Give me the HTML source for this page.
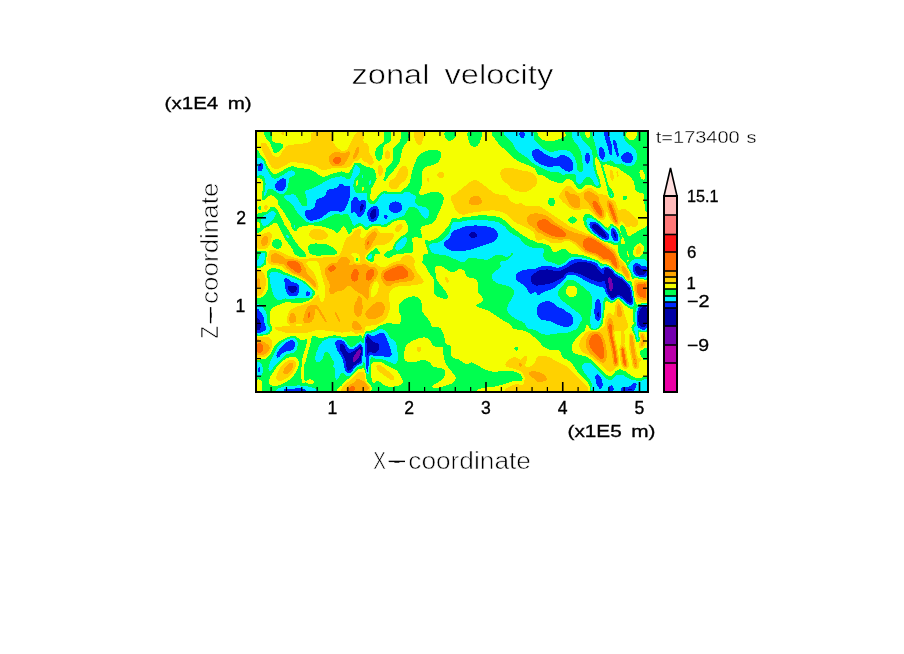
<!DOCTYPE html>
<html lang="en">
<head>
<meta charset="utf-8">
<title>zonal velocity</title>
<style>
html,body{margin:0;padding:0;background:#fff;}
body{width:904px;height:654px;overflow:hidden;}
svg{display:block;}
text{font-family:"Liberation Sans",sans-serif;fill:#000;}
.thin{stroke:#fff;stroke-width:0.6px;paint-order:fill stroke;}
.thin2{stroke:#fff;stroke-width:0.3px;paint-order:fill stroke;}
.med{stroke:#000;stroke-width:0.32px;}
.lab{stroke:#000;stroke-width:0.35px;}
</style>
</head>
<body>
<svg width="904" height="654" viewBox="0 0 904 654">
<defs>
<filter id="contour" x="0" y="0" width="100%" height="100%" filterUnits="userSpaceOnUse" primitiveUnits="userSpaceOnUse" color-interpolation-filters="sRGB">
<feGaussianBlur stdDeviation="1.5"/>
<feComponentTransfer>
<feFuncR type="discrete" tableValues="0.4510 0.0000 0.0000 0.0000 0.0000 0.9608 1.0000 1.0000 1.0000 1.0000"/>
<feFuncG type="discrete" tableValues="0.0000 0.0000 0.1569 0.9412 1.0000 1.0000 0.8235 0.6471 0.4118 0.0784"/>
<feFuncB type="discrete" tableValues="0.6863 0.6471 1.0000 1.0000 0.3137 0.0000 0.0000 0.0000 0.0000 0.0784"/>
<feFuncA type="discrete" tableValues="1 1"/>
</feComponentTransfer>
</filter>
<clipPath id="plotclip"><rect x="256" y="131" width="392" height="261"/></clipPath>
</defs>
<rect x="0" y="0" width="904" height="654" fill="#fff"/>
<g clip-path="url(#plotclip)">
<g filter="url(#contour)">
<rect x="200" y="80" width="500" height="360" fill="rgb(140,140,140)"/>
<path d="M261.2,142.5C261.9,141.2 264.7,142.3 266.2,143.8C267.8,145.2 269.4,149.2 270.6,151.2C271.9,153.3 272.2,155.4 273.8,156.2C275.3,157.1 277.9,157.9 280.0,156.2C282.1,154.6 281.2,148.6 286.2,146.2C291.2,143.9 305.7,144.2 310.0,141.9C314.3,139.6 308.5,134.1 311.9,132.5C315.2,130.9 326.5,130.8 330.0,132.5C333.5,134.2 331.0,139.3 333.1,142.5C335.2,145.7 339.9,150.6 342.5,151.9C345.1,153.1 346.0,151.4 348.8,150.0C351.5,148.6 357.0,142.3 358.8,143.8C360.5,145.2 360.0,155.3 359.4,158.8C358.8,162.2 357.0,162.9 355.0,164.4C353.0,165.8 350.8,167.0 347.5,167.5C344.2,168.0 339.2,167.1 335.0,167.5C330.8,167.9 326.0,170.3 322.5,170.0C319.0,169.7 318.8,167.0 313.8,165.6C308.8,164.3 297.5,161.8 292.5,161.9C287.5,162.0 286.7,165.0 283.8,166.2C280.8,167.5 277.5,170.0 275.0,169.4C272.5,168.8 270.8,165.5 268.8,162.5C266.7,159.5 263.8,154.6 262.5,151.2C261.2,147.9 260.6,143.8 261.2,142.5Z" fill="rgb(166,166,166)"/>
<ellipse cx="282.8" cy="133.5" rx="2.2" ry="1.9" transform="rotate(0 282.8 133.5)" fill="rgb(166,166,166)"/>
<path d="M264.4,131.2C265.3,130.2 269.9,129.6 271.2,131.2C272.6,132.9 270.7,139.2 272.5,141.2C274.3,143.3 279.9,142.7 281.9,143.8C283.9,144.8 284.9,146.2 284.4,147.5C283.9,148.8 280.3,150.1 278.8,151.2C277.2,152.4 276.0,154.6 275.0,154.4C274.0,154.2 273.3,152.0 272.5,150.0C271.7,148.0 271.1,144.6 270.0,142.5C268.9,140.4 266.6,139.4 265.6,137.5C264.7,135.6 263.4,132.3 264.4,131.2Z" fill="rgb(115,115,115)"/>
<path d="M255.0,151.2C255.9,143.8 259.2,153.3 260.6,155.0C262.1,156.7 262.6,159.2 263.8,161.2C264.9,163.3 265.8,165.3 267.5,167.5C269.2,169.7 271.7,173.6 273.8,174.4C275.8,175.1 277.1,173.2 280.0,171.9C282.9,170.5 288.1,166.9 291.2,166.2C294.4,165.6 295.6,167.6 298.8,168.1C301.9,168.6 307.3,168.8 310.0,169.4C312.7,170.0 312.8,170.6 315.0,171.9C317.2,173.1 320.2,176.6 323.1,176.9C326.0,177.2 329.3,174.7 332.5,173.8C335.7,172.8 340.0,171.2 342.5,171.2C345.0,171.2 346.0,174.0 347.5,173.8C349.0,173.5 350.0,171.6 351.2,170.0C352.5,168.4 354.0,165.7 355.0,164.4C356.0,163.0 356.7,161.6 357.5,161.9C358.3,162.2 359.2,164.9 360.0,166.2C360.8,167.6 361.0,169.2 362.5,170.0C364.0,170.8 367.7,166.2 368.8,171.2C369.8,176.2 387.7,195.2 368.8,200.0C349.8,204.8 274.0,208.1 255.0,200.0C236.0,191.9 254.1,158.8 255.0,151.2Z" fill="rgb(115,115,115)"/>
<path d="M362.4,145.0C363.0,143.2 365.6,141.9 366.8,143.1C367.9,144.4 368.2,149.9 369.2,152.5C370.3,155.1 372.3,156.9 373.0,158.8C373.7,160.6 374.2,162.7 373.6,163.8C373.0,164.8 370.6,165.8 369.2,165.0C367.9,164.2 366.5,160.6 365.5,158.8C364.5,156.9 363.5,156.0 363.0,153.8C362.5,151.5 361.8,146.8 362.4,145.0Z" fill="rgb(166,166,166)"/>
<ellipse cx="387.4" cy="155.0" rx="2.5" ry="5.2" transform="rotate(0 387.4 155.0)" fill="rgb(166,166,166)"/>
<ellipse cx="380.1" cy="170.6" rx="2.8" ry="6.0" transform="rotate(0 380.1 170.6)" fill="rgb(166,166,166)"/>
<path d="M390.5,180.0C391.6,179.0 393.8,179.6 395.5,177.5C397.2,175.4 398.8,169.5 400.5,167.5C402.2,165.5 404.2,164.8 405.5,165.6C406.8,166.5 408.0,170.1 408.0,172.5C408.0,174.9 406.8,178.1 405.5,180.0C404.2,181.9 402.0,182.3 400.5,183.8C399.0,185.2 398.4,187.9 396.8,188.8C395.1,189.6 391.8,189.6 390.5,188.8C389.2,187.9 389.0,185.2 389.0,183.8C389.0,182.3 389.4,181.0 390.5,180.0Z" fill="rgb(166,166,166)"/>
<path d="M414.2,131.2C415.5,129.4 422.2,129.8 423.6,131.2C425.1,132.7 423.6,137.6 423.0,140.0C422.4,142.4 421.0,145.2 419.9,145.6C418.7,146.0 417.1,144.9 416.1,142.5C415.2,140.1 413.0,133.1 414.2,131.2Z" fill="rgb(166,166,166)"/>
<ellipse cx="440.9" cy="175.2" rx="3.8" ry="3.1" transform="rotate(0 440.9 175.2)" fill="rgb(166,166,166)"/>
<ellipse cx="428.0" cy="179.8" rx="1.4" ry="3.8" transform="rotate(-15.0 428.0 179.8)" fill="rgb(166,166,166)"/>
<path d="M459.2,197.5C458.4,196.5 460.5,193.0 461.8,191.2C463.0,189.5 465.9,185.8 466.8,186.9C467.6,187.9 468.0,195.7 466.8,197.5C465.5,199.3 460.1,198.5 459.2,197.5Z" fill="rgb(166,166,166)"/>
<path d="M384.2,131.2C385.3,129.5 389.5,129.6 390.5,131.2C391.5,132.9 391.3,139.2 390.5,141.2C389.7,143.3 386.8,142.5 385.5,143.8C384.2,145.0 383.5,146.5 383.0,148.8C382.5,151.0 383.0,155.4 382.4,157.5C381.8,159.6 380.3,161.0 379.2,161.2C378.2,161.5 376.8,160.6 376.1,158.8C375.5,156.9 374.9,152.4 375.5,150.0C376.1,147.6 378.5,145.7 379.9,144.4C381.3,143.0 383.3,144.1 384.0,141.9C384.7,139.7 383.2,133.0 384.2,131.2Z" fill="rgb(115,115,115)"/>
<path d="M401.1,131.2C402.4,129.7 406.9,129.7 408.0,131.2C409.1,132.8 408.8,137.9 408.0,140.6C407.2,143.3 404.1,145.1 403.0,147.5C401.9,149.9 401.8,152.5 401.1,155.0C400.5,157.5 400.6,159.8 399.2,162.5C397.9,165.2 395.1,168.5 393.0,171.2C390.9,174.0 388.1,176.2 386.8,178.8C385.4,181.2 385.7,183.1 384.9,186.2C384.0,189.4 383.5,195.6 381.8,197.5C380.0,199.4 375.1,199.6 374.2,197.5C373.4,195.4 375.1,188.3 376.8,185.0C378.4,181.7 382.7,180.2 384.2,177.5C385.8,174.8 384.9,171.2 386.1,168.8C387.4,166.2 390.5,164.6 391.8,162.5C393.0,160.4 393.5,158.3 393.6,156.2C393.7,154.2 392.0,151.9 392.4,150.0C392.8,148.1 394.8,146.6 396.1,145.0C397.5,143.4 399.7,142.9 400.5,140.6C401.3,138.3 399.9,132.8 401.1,131.2Z" fill="rgb(115,115,115)"/>
<path d="M418.0,156.2C419.5,154.2 420.9,153.5 423.0,152.5C425.1,151.5 427.8,150.3 430.5,150.0C433.2,149.7 437.5,149.8 439.2,150.6C441.0,151.5 441.3,153.0 441.1,155.0C440.9,157.0 439.8,160.7 438.0,162.5C436.2,164.3 432.8,164.8 430.5,165.6C428.2,166.5 425.7,165.9 424.2,167.5C422.8,169.1 422.2,172.1 421.8,175.0C421.3,177.9 422.2,182.3 421.8,185.0C421.3,187.7 420.5,189.2 419.2,191.2C418.0,193.3 417.4,196.5 414.2,197.5C411.1,198.5 402.4,198.8 400.5,197.5C398.6,196.2 401.5,192.3 403.0,190.0C404.5,187.7 407.8,186.7 409.2,183.8C410.7,180.8 410.9,175.6 411.8,172.5C412.6,169.4 413.2,167.7 414.2,165.0C415.3,162.3 416.5,158.3 418.0,156.2Z" fill="rgb(115,115,115)"/>
<path d="M444.9,131.2C446.5,130.1 453.8,130.2 455.5,131.2C457.2,132.3 455.9,135.8 454.9,137.5C453.8,139.2 450.8,141.1 449.2,141.2C447.7,141.4 446.2,139.8 445.5,138.1C444.8,136.5 443.2,132.4 444.9,131.2Z" fill="rgb(115,115,115)"/>
<path d="M353.0,165.0C353.8,159.2 355.9,162.3 358.0,162.5C360.1,162.7 363.4,165.4 365.5,166.2C367.6,167.1 368.8,166.7 370.5,167.5C372.2,168.3 374.5,168.3 375.5,171.2C376.5,174.2 377.0,180.6 376.8,185.0C376.5,189.4 378.2,195.4 374.2,197.5C370.3,199.6 356.5,202.9 353.0,197.5C349.5,192.1 352.2,170.8 353.0,165.0Z" fill="rgb(115,115,115)"/>
<ellipse cx="452.2" cy="135.0" rx="3.5" ry="4.8" transform="rotate(0 452.2 135.0)" fill="rgb(115,115,115)"/>
<path d="M467.9,131.2C469.9,129.2 479.4,130.0 481.6,131.2C483.8,132.5 481.6,136.4 481.0,138.8C480.4,141.1 479.1,144.3 477.9,145.6C476.6,147.0 474.9,147.2 473.5,146.9C472.1,146.6 470.7,146.4 469.8,143.8C468.8,141.1 465.9,133.3 467.9,131.2Z" fill="rgb(115,115,115)"/>
<path d="M494.1,131.2C487.5,132.5 493.6,136.2 494.8,138.8C495.9,141.2 498.7,144.0 501.0,146.2C503.3,148.5 506.6,150.7 508.5,152.5C510.4,154.3 510.2,155.2 512.2,156.9C514.3,158.5 517.9,160.9 521.0,162.5C524.1,164.1 528.1,165.0 531.0,166.2C533.9,167.5 536.2,168.3 538.5,170.0C540.8,171.7 542.2,174.4 544.8,176.2C547.2,178.1 550.2,180.6 553.5,181.2C556.8,181.9 562.9,186.7 564.8,180.0C566.6,173.3 566.0,147.8 564.8,141.2C563.5,134.7 559.5,140.4 557.2,140.6C555.0,140.8 553.3,142.5 551.0,142.5C548.7,142.5 545.8,141.7 543.5,140.6C541.2,139.6 538.7,137.8 537.2,136.2C535.8,134.7 541.9,132.1 534.8,131.2C527.6,130.4 500.8,130.0 494.1,131.2Z" fill="rgb(115,115,115)"/>
<path d="M501.0,170.0C502.6,168.2 507.7,168.0 511.0,168.1C514.3,168.2 517.7,169.9 521.0,170.6C524.3,171.4 528.3,171.1 531.0,172.5C533.7,173.9 536.4,176.7 537.2,178.8C538.1,180.8 537.2,183.1 536.0,185.0C534.8,186.9 531.6,188.9 529.8,190.0C527.9,191.1 527.5,191.9 524.8,191.9C522.0,191.9 516.4,191.4 513.5,190.0C510.6,188.6 509.2,185.6 507.2,183.8C505.3,181.9 502.7,181.0 501.6,178.8C500.6,176.5 499.4,171.8 501.0,170.0Z" fill="rgb(166,166,166)"/>
<path d="M456.0,197.5C450.2,195.8 460.4,190.4 463.5,187.5C466.6,184.6 471.4,180.4 474.8,180.0C478.1,179.6 480.6,183.0 483.5,185.0C486.4,187.0 489.8,189.8 492.2,191.9C494.8,194.0 504.5,196.6 498.5,197.5C492.5,198.4 461.8,199.2 456.0,197.5Z" fill="rgb(166,166,166)"/>
<path d="M536.0,137.5C537.2,132.4 540.8,140.0 543.5,140.6C546.2,141.2 549.3,141.6 552.2,141.2C555.2,140.9 558.5,139.8 561.0,138.8C563.5,137.7 566.0,136.5 567.2,135.0C568.5,133.5 555.0,130.8 568.5,130.0C582.0,129.2 635.2,120.0 648.5,130.0C661.8,140.0 649.1,179.7 648.5,190.0C647.9,200.3 646.4,191.1 644.8,191.6C643.1,192.1 640.4,193.3 638.8,192.9C637.1,192.5 635.9,191.0 635.1,189.1C634.3,187.3 634.9,184.1 633.9,181.9C632.9,179.6 631.0,177.6 629.0,175.8C627.0,173.9 623.7,172.1 621.6,170.8C619.6,169.4 618.5,168.2 616.8,167.5C615.0,166.8 612.8,166.9 611.0,166.2C609.2,165.6 607.7,164.4 606.0,163.8C604.3,163.1 602.7,164.0 601.0,162.5C599.3,161.0 597.0,155.2 596.0,155.0C595.0,154.8 594.8,158.5 594.8,161.2C594.8,164.0 595.4,168.1 596.0,171.2C596.6,174.4 597.7,177.1 598.5,180.0C599.3,182.9 601.0,187.5 601.0,188.8C601.0,190.0 600.2,188.1 598.5,187.5C596.8,186.9 593.1,185.4 591.0,185.0C588.9,184.6 587.9,184.2 586.0,185.0C584.1,185.8 581.4,189.8 579.8,190.0C578.1,190.2 577.2,187.9 576.0,186.2C574.8,184.6 574.8,181.1 572.2,180.0C569.8,178.9 564.3,179.4 561.0,179.4C557.7,179.4 555.2,180.7 552.2,180.0C549.3,179.3 546.2,176.5 543.5,175.0C540.8,173.5 537.2,177.5 536.0,171.2C534.8,165.0 534.8,142.6 536.0,137.5Z" fill="rgb(115,115,115)"/>
<path d="M562.2,197.5C556.7,196.0 563.1,190.7 564.1,188.8C565.2,186.8 566.9,185.6 568.5,185.6C570.1,185.6 571.8,187.4 573.5,188.8C575.2,190.1 576.8,193.3 578.5,193.8C580.2,194.2 581.8,192.3 583.5,191.2C585.2,190.2 586.8,187.7 588.5,187.5C590.2,187.3 592.0,188.3 593.5,190.0C595.0,191.7 602.5,196.2 597.2,197.5C592.0,198.8 567.8,199.0 562.2,197.5Z" fill="rgb(166,166,166)"/>
<ellipse cx="611.6" cy="175.0" rx="1.8" ry="7.5" transform="rotate(-8.0 611.6 175.0)" fill="rgb(166,166,166)"/>
<ellipse cx="617.5" cy="173.8" rx="1.2" ry="6.2" transform="rotate(-8.0 617.5 173.8)" fill="rgb(166,166,166)"/>
<ellipse cx="259.4" cy="187.5" rx="1.8" ry="5.0" transform="rotate(0 259.4 187.5)" fill="rgb(166,166,166)"/>
<path d="M272.5,194.8C257.3,196.2 275.6,200.6 277.5,203.5C279.4,206.4 281.7,209.1 283.8,212.2C285.8,215.4 287.9,219.8 290.0,222.2C292.1,224.8 293.3,226.7 296.2,227.2C299.2,227.8 303.5,225.6 307.5,225.4C311.5,225.2 315.8,225.3 320.0,226.0C324.2,226.7 329.6,228.5 332.5,229.8C335.4,231.0 336.0,233.7 337.5,233.5C339.0,233.3 340.2,230.0 341.2,228.5C342.3,227.0 342.7,224.1 343.8,224.8C344.8,225.4 346.5,230.2 347.5,232.2C348.5,234.3 348.8,237.2 350.0,237.2C351.2,237.2 352.9,234.3 355.0,232.2C357.1,230.2 360.2,225.6 362.5,224.8C364.8,223.9 367.7,232.2 368.8,227.2C369.8,222.2 384.8,200.2 368.8,194.8C352.7,189.3 287.7,193.3 272.5,194.8Z" fill="rgb(115,115,115)"/>
<path d="M255.0,216.0C256.2,212.5 260.2,213.6 262.5,212.2C264.8,210.9 266.9,208.8 268.8,207.9C270.6,206.9 272.2,206.1 273.8,206.6C275.3,207.1 276.8,209.0 278.1,211.0C279.5,213.0 280.3,215.6 281.9,218.5C283.4,221.4 285.7,225.4 287.5,228.5C289.3,231.6 290.6,234.3 292.5,237.2C294.4,240.2 296.2,243.1 298.8,246.0C301.2,248.9 305.4,251.8 307.5,254.8C309.6,257.7 311.7,262.0 311.2,263.5C310.8,265.0 307.3,265.0 305.0,263.5C302.7,262.0 299.8,257.5 297.5,254.8C295.2,252.0 293.3,250.0 291.2,247.2C289.2,244.5 286.9,241.6 285.0,238.5C283.1,235.4 281.5,231.2 280.0,228.5C278.5,225.8 277.7,222.9 276.2,222.2C274.8,221.6 273.1,223.9 271.2,224.8C269.4,225.6 266.9,226.0 265.0,227.2C263.1,228.5 261.7,231.2 260.0,232.2C258.3,233.3 255.8,236.2 255.0,233.5C254.2,230.8 253.8,219.5 255.0,216.0Z" fill="rgb(115,115,115)"/>
<ellipse cx="276.9" cy="244.1" rx="5.2" ry="5.6" transform="rotate(0 276.9 244.1)" fill="rgb(115,115,115)"/>
<path d="M307.5,246.0C308.3,244.5 310.8,243.8 313.8,243.5C316.7,243.2 321.9,243.5 325.0,244.1C328.1,244.8 330.4,245.9 332.5,247.2C334.6,248.6 337.1,250.8 337.5,252.2C337.9,253.7 337.1,255.2 335.0,256.0C332.9,256.8 328.3,257.2 325.0,257.2C321.7,257.2 317.7,256.8 315.0,256.0C312.3,255.2 310.0,253.9 308.8,252.2C307.5,250.6 306.7,247.5 307.5,246.0Z" fill="rgb(115,115,115)"/>
<path d="M255.0,251.0C256.2,248.7 260.4,249.3 262.5,249.8C264.6,250.2 266.5,251.2 267.5,253.5C268.5,255.8 270.8,261.8 268.8,263.5C266.7,265.2 257.3,265.6 255.0,263.5C252.7,261.4 253.8,253.3 255.0,251.0Z" fill="rgb(115,115,115)"/>
<ellipse cx="266.2" cy="207.9" rx="1.9" ry="4.4" transform="rotate(0 266.2 207.9)" fill="rgb(166,166,166)"/>
<ellipse cx="258.8" cy="224.8" rx="1.2" ry="3.8" transform="rotate(0 258.8 224.8)" fill="rgb(166,166,166)"/>
<ellipse cx="274.6" cy="229.8" rx="1.6" ry="1.9" transform="rotate(0 274.6 229.8)" fill="rgb(166,166,166)"/>
<ellipse cx="286.2" cy="222.2" rx="1.2" ry="2.5" transform="rotate(0 286.2 222.2)" fill="rgb(166,166,166)"/>
<path d="M255.0,237.2C256.0,235.4 259.2,235.6 261.2,234.8C263.3,233.9 265.7,232.5 267.5,232.2C269.3,232.0 271.2,232.2 271.9,233.5C272.5,234.8 271.8,237.7 271.2,239.8C270.7,241.8 270.0,244.3 268.8,246.0C267.5,247.7 265.4,249.1 263.8,249.8C262.1,250.4 260.2,250.4 258.8,249.8C257.3,249.1 255.6,248.1 255.0,246.0C254.4,243.9 254.0,239.1 255.0,237.2Z" fill="rgb(166,166,166)"/>
<path d="M309.4,232.2C310.1,230.8 312.6,229.4 315.0,229.1C317.4,228.8 321.6,229.4 323.8,230.4C325.9,231.3 327.7,233.4 328.1,234.8C328.5,236.1 328.0,237.7 326.2,238.5C324.5,239.3 320.1,239.9 317.5,239.8C314.9,239.6 312.0,239.1 310.6,237.9C309.3,236.6 308.6,233.7 309.4,232.2Z" fill="rgb(166,166,166)"/>
<path d="M305.6,231.6C305.7,233.6 306.0,239.6 306.2,243.5C306.5,247.4 306.8,252.9 306.9,254.8" fill="none" stroke="rgb(166,166,166)" stroke-width="1.2" stroke-linecap="round" stroke-linejoin="round"/>
<path d="M269.4,251.0C270.6,248.7 273.4,249.1 276.2,249.8C279.1,250.4 282.9,253.3 286.2,254.8C289.6,256.2 293.1,257.0 296.2,258.5C299.4,260.0 309.6,262.7 305.0,263.5C300.4,264.3 274.7,265.6 268.8,263.5C262.8,261.4 268.1,253.3 269.4,251.0Z" fill="rgb(166,166,166)"/>
<path d="M342.5,248.5C343.5,245.8 344.6,241.0 346.2,238.5C347.9,236.0 350.4,235.4 352.5,233.5C354.6,231.6 357.3,227.9 358.8,227.2C360.2,226.6 361.0,228.1 361.2,229.8C361.5,231.4 359.6,235.8 360.0,237.2C360.4,238.7 362.3,239.1 363.8,238.5C365.2,237.9 367.9,229.3 368.8,233.5C369.6,237.7 370.4,258.5 368.8,263.5C367.1,268.5 360.6,265.0 358.8,263.5C356.9,262.0 358.3,256.8 357.5,254.8C356.7,252.7 355.0,250.8 353.8,251.0C352.5,251.2 351.0,253.9 350.0,256.0C349.0,258.1 349.6,262.2 347.5,263.5C345.4,264.8 338.8,265.0 337.5,263.5C336.2,262.0 339.2,257.2 340.0,254.8C340.8,252.2 341.5,251.2 342.5,248.5Z" fill="rgb(166,166,166)"/>
<path d="M353.0,194.8C342.6,200.2 351.8,222.4 353.0,227.2C354.2,232.1 358.4,223.7 360.5,224.1C362.6,224.5 363.6,229.4 365.5,229.8C367.4,230.1 369.7,226.9 371.8,226.0C373.8,225.1 375.7,224.3 378.0,224.5C380.3,224.7 383.2,227.6 385.5,227.2C387.8,226.9 389.5,223.6 391.8,222.2C394.0,220.9 397.0,219.3 399.2,219.1C401.5,218.9 404.0,219.6 405.5,221.0C407.0,222.4 407.4,224.8 408.0,227.2C408.6,229.8 408.4,234.3 409.2,236.0C410.1,237.7 411.5,237.0 413.0,237.2C414.5,237.5 416.3,237.0 418.0,237.2C419.7,237.5 422.5,239.3 423.0,238.5C423.5,237.7 421.5,234.1 421.1,232.2C420.7,230.4 419.4,228.5 420.5,227.2C421.6,226.0 425.8,225.5 428.0,224.8C430.2,224.0 432.0,224.5 433.8,222.5C435.5,220.5 437.3,215.6 438.8,212.5C440.2,209.4 441.7,206.4 442.5,203.8C443.3,201.1 444.3,198.5 443.8,196.6C443.2,194.7 441.9,192.9 439.2,192.2C436.6,191.6 431.1,192.2 428.0,192.9C424.9,193.5 422.6,195.7 420.5,196.0C418.4,196.3 426.8,195.0 415.5,194.8C404.2,194.5 363.4,189.3 353.0,194.8Z" fill="rgb(115,115,115)"/>
<path d="M403.0,237.2C405.1,235.4 406.5,232.0 408.0,232.2C409.5,232.5 410.9,235.4 411.8,238.5C412.6,241.6 413.4,248.1 413.0,251.0C412.6,253.9 411.3,255.6 409.2,256.0C407.2,256.4 403.2,253.6 400.5,253.5C397.8,253.4 395.1,254.6 393.0,255.4C390.9,256.1 389.7,258.0 388.0,257.9C386.3,257.8 384.7,256.0 383.0,254.8C381.3,253.5 379.2,251.8 378.0,250.4C376.8,248.9 376.5,245.9 375.5,246.0C374.5,246.1 373.4,249.3 371.8,251.0C370.1,252.7 366.9,253.9 365.5,256.0C364.1,258.1 362.0,262.2 363.6,263.5C365.3,264.8 373.8,264.5 375.5,263.5C377.2,262.5 373.5,259.0 373.6,257.2C373.7,255.5 374.8,253.2 376.1,252.9C377.5,252.6 379.9,255.7 381.8,255.4C383.6,255.1 385.5,251.9 387.4,251.0C389.2,250.1 391.6,251.0 393.0,249.8C394.4,248.5 393.8,245.6 395.5,243.5C397.2,241.4 400.9,239.1 403.0,237.2Z" fill="rgb(115,115,115)"/>
<path d="M466.8,219.1C465.1,212.0 459.7,220.0 456.8,221.0C453.8,222.0 451.3,223.7 449.2,225.4C447.2,227.0 446.3,228.8 444.2,231.0C442.2,233.2 439.2,236.8 436.8,238.5C434.2,240.2 431.3,240.9 429.2,241.0C427.2,241.1 424.8,238.3 424.2,239.1C423.7,240.0 425.3,243.6 426.1,246.0C427.0,248.4 428.9,251.4 429.2,253.5C429.6,255.6 429.0,256.8 428.0,258.5C427.0,260.2 416.5,262.7 423.0,263.5C429.5,264.3 459.5,270.9 466.8,263.5C474.0,256.1 468.4,226.2 466.8,219.1Z" fill="rgb(115,115,115)"/>
<path d="M353.0,229.8C353.8,226.4 356.9,230.6 358.0,232.2C359.1,233.9 359.9,237.0 359.9,239.8C359.9,242.5 359.1,246.4 358.0,248.5C356.9,250.6 353.8,255.4 353.0,252.2C352.2,249.1 352.2,233.1 353.0,229.8Z" fill="rgb(166,166,166)"/>
<path d="M361.8,254.8C361.5,252.7 362.2,249.1 363.0,246.0C363.8,242.9 365.3,238.7 366.8,236.0C368.2,233.3 370.1,231.1 371.8,229.8C373.4,228.4 375.5,227.5 376.8,227.9C378.0,228.3 377.8,231.3 379.2,232.2C380.7,233.2 383.4,233.5 385.5,233.5C387.6,233.5 390.3,231.8 391.8,232.2C393.2,232.7 394.5,234.5 394.2,236.0C394.0,237.5 392.2,239.5 390.5,241.0C388.8,242.5 386.3,244.1 384.2,244.8C382.2,245.4 379.9,244.1 378.0,244.8C376.1,245.4 374.7,247.0 373.0,248.5C371.3,250.0 369.5,251.8 368.0,253.5C366.5,255.2 365.3,258.3 364.2,258.5C363.2,258.7 362.0,256.8 361.8,254.8Z" fill="rgb(166,166,166)"/>
<path d="M395.5,227.2C396.3,226.1 398.6,224.1 399.9,223.8C401.1,223.4 402.7,224.5 403.0,225.4C403.3,226.3 402.7,228.0 401.8,229.1C400.8,230.3 398.5,232.0 397.4,232.2C396.3,232.5 395.6,231.2 395.2,230.4C394.9,229.5 394.7,228.4 395.5,227.2Z" fill="rgb(166,166,166)"/>
<path d="M400.5,263.5C398.6,262.2 401.8,257.7 403.0,256.0C404.2,254.3 406.3,253.3 408.0,253.5C409.7,253.7 412.0,255.6 413.0,257.2C414.0,258.9 416.3,262.5 414.2,263.5C412.2,264.5 402.4,264.8 400.5,263.5Z" fill="rgb(166,166,166)"/>
<path d="M454.9,194.8C457.0,193.5 464.8,191.6 466.8,194.8C468.7,197.9 467.8,210.3 466.8,213.5C465.7,216.7 462.4,214.8 460.5,214.1C458.6,213.5 456.5,211.7 455.5,209.8C454.5,207.8 454.4,204.8 454.2,202.2C454.1,199.8 452.8,196.0 454.9,194.8Z" fill="rgb(166,166,166)"/>
<path d="M454.1,194.8C446.1,196.6 453.4,203.1 454.1,206.0C454.9,208.9 455.9,211.1 458.5,212.2C461.1,213.4 465.6,213.1 469.8,212.9C473.9,212.7 479.1,211.4 483.5,211.0C487.9,210.6 492.5,210.1 496.0,210.4C499.5,210.7 502.5,211.7 504.8,212.9C507.0,214.0 508.3,215.9 509.8,217.2C511.2,218.6 512.0,219.9 513.5,221.0C515.0,222.1 516.4,223.1 518.5,224.1C520.6,225.2 523.7,226.1 526.0,227.2C528.3,228.4 530.2,229.5 532.2,231.0C534.3,232.5 536.4,234.6 538.5,236.0C540.6,237.4 542.7,238.0 544.8,239.1C546.8,240.3 548.9,242.2 551.0,242.9C553.1,243.5 555.0,243.3 557.2,242.9C559.5,242.5 563.5,243.0 564.8,240.4C566.0,237.8 566.4,230.9 564.8,227.2C563.1,223.6 557.2,220.8 554.8,218.5C552.2,216.2 551.8,215.2 549.8,213.5C547.7,211.8 545.0,209.6 542.2,208.5C539.5,207.4 536.4,207.0 533.5,206.6C530.6,206.2 526.6,206.6 524.8,206.0C522.9,205.4 523.7,203.2 522.2,202.9C520.8,202.6 518.1,204.5 516.0,204.1C513.9,203.7 512.0,201.9 509.8,200.4C507.5,198.8 511.5,195.7 502.2,194.8C493.0,193.8 462.1,192.9 454.1,194.8Z" fill="rgb(166,166,166)"/>
<ellipse cx="551.6" cy="202.0" rx="3.1" ry="4.4" transform="rotate(0 551.6 202.0)" fill="rgb(115,115,115)"/>
<path d="M561.0,194.8C561.5,193.7 564.1,193.5 564.8,194.8C565.4,196.0 565.3,201.2 564.8,202.2C564.2,203.3 562.2,202.2 561.6,201.0C561.0,199.8 560.5,195.8 561.0,194.8Z" fill="rgb(166,166,166)"/>
<path d="M451.0,221.0C452.2,213.6 455.8,219.8 458.5,219.1C461.2,218.5 463.9,217.9 467.2,217.2C470.6,216.6 474.3,215.6 478.5,215.4C482.7,215.2 488.5,215.6 492.2,216.0C496.0,216.4 498.7,216.9 501.0,217.9C503.3,218.8 504.3,220.2 506.0,221.6C507.7,223.1 508.9,224.9 511.0,226.6C513.1,228.4 516.0,230.5 518.5,232.2C521.0,234.0 523.1,235.7 526.0,237.2C528.9,238.8 533.1,240.5 536.0,241.6C538.9,242.8 541.2,243.4 543.5,244.1C545.8,244.9 548.1,244.6 549.8,246.0C551.4,247.4 552.0,251.4 553.5,252.2C555.0,253.1 556.6,251.6 558.5,251.0C560.4,250.4 563.7,246.4 564.8,248.5C565.8,250.6 583.7,261.0 564.8,263.5C545.8,266.0 470.0,270.6 451.0,263.5C432.0,256.4 449.8,228.4 451.0,221.0Z" fill="rgb(115,115,115)"/>
<path d="M536.0,207.2C537.5,202.0 542.0,208.5 544.8,209.8C547.5,211.0 549.5,213.0 552.2,214.8C555.0,216.5 558.3,218.6 561.0,220.4C563.7,222.1 565.8,223.8 568.5,225.4C571.2,226.9 574.8,228.6 577.2,229.8C579.8,230.9 581.8,231.2 583.5,232.2C585.2,233.3 585.8,234.8 587.2,236.0C588.7,237.2 590.0,238.5 592.2,239.8C594.5,241.0 598.3,242.0 601.0,243.5C603.7,245.0 606.0,246.6 608.5,248.5C611.0,250.4 614.1,252.2 616.0,254.8C617.9,257.2 621.4,262.0 619.8,263.5C618.1,265.0 609.1,264.8 606.0,263.5C602.9,262.2 603.3,258.1 601.0,256.0C598.7,253.9 595.0,251.8 592.2,251.0C589.5,250.2 587.0,251.8 584.8,251.0C582.5,250.2 580.2,247.7 578.5,246.0C576.8,244.3 576.4,242.0 574.8,241.0C573.1,240.0 570.8,240.1 568.5,239.8C566.2,239.4 563.7,239.4 561.0,239.1C558.3,238.8 555.2,238.1 552.2,237.9C549.3,237.7 546.2,237.4 543.5,237.9C540.8,238.4 537.2,246.1 536.0,241.0C534.8,235.9 534.5,212.5 536.0,207.2Z" fill="rgb(166,166,166)"/>
<path d="M560.4,194.8C567.7,193.9 598.4,193.3 606.0,194.8C613.6,196.2 606.2,200.4 606.0,203.5C605.8,206.6 605.4,210.8 604.8,213.5C604.1,216.2 603.7,219.1 602.2,219.8C600.8,220.4 597.9,218.7 596.0,217.2C594.1,215.8 592.7,212.5 591.0,211.0C589.3,209.5 588.1,208.7 586.0,208.5C583.9,208.3 580.8,209.8 578.5,209.8C576.2,209.8 574.3,209.3 572.2,208.5C570.2,207.7 567.7,206.2 566.0,204.8C564.3,203.3 563.2,201.4 562.2,199.8C561.3,198.1 553.1,195.6 560.4,194.8Z" fill="rgb(166,166,166)"/>
<path d="M605.4,198.5C606.0,196.0 609.2,195.2 611.0,196.0C612.8,196.8 614.6,200.4 616.0,203.5C617.4,206.6 618.5,211.0 619.1,214.8C619.8,218.5 620.3,224.1 619.8,226.0C619.2,227.9 617.5,227.0 616.0,226.0C614.5,225.0 612.5,222.2 611.0,219.8C609.5,217.2 608.2,214.5 607.2,211.0C606.3,207.5 604.8,201.0 605.4,198.5Z" fill="rgb(166,166,166)"/>
<path d="M619.8,211.0C620.0,208.9 621.8,208.3 623.5,208.5C625.2,208.7 627.9,210.8 629.8,212.2C631.6,213.7 633.3,215.6 634.8,217.2C636.2,218.9 638.3,220.6 638.5,222.2C638.7,223.9 637.2,226.6 636.0,227.2C634.8,227.9 632.7,226.0 631.0,226.0C629.3,226.0 627.5,228.1 626.0,227.2C624.5,226.4 623.3,223.7 622.2,221.0C621.2,218.3 619.5,213.1 619.8,211.0Z" fill="rgb(166,166,166)"/>
<ellipse cx="551.6" cy="202.0" rx="3.5" ry="4.4" transform="rotate(0 551.6 202.0)" fill="rgb(115,115,115)"/>
<ellipse cx="572.5" cy="220.0" rx="4.4" ry="3.8" transform="rotate(0 572.5 220.0)" fill="rgb(115,115,115)"/>
<ellipse cx="624.8" cy="197.9" rx="2.5" ry="2.8" transform="rotate(0 624.8 197.9)" fill="rgb(115,115,115)"/>
<path d="M583.5,216.6C583.9,215.4 584.8,213.8 586.0,213.5C587.2,213.2 589.1,213.7 591.0,214.8C592.9,215.8 595.2,217.9 597.2,219.8C599.3,221.6 601.6,224.5 603.5,226.0C605.4,227.5 607.2,228.9 608.5,228.5C609.8,228.1 610.0,224.1 611.0,223.5C612.0,222.9 613.5,223.5 614.8,224.8C616.0,226.0 617.5,228.7 618.5,231.0C619.5,233.3 620.8,236.4 621.0,238.5C621.2,240.6 620.8,242.5 619.8,243.5C618.7,244.5 616.4,245.0 614.8,244.8C613.1,244.5 611.6,242.8 609.8,242.2C607.9,241.7 605.6,242.1 603.5,241.6C601.4,241.1 599.3,240.5 597.2,239.1C595.2,237.8 592.9,235.5 591.0,233.5C589.1,231.5 587.2,229.3 586.0,227.2C584.8,225.2 583.9,222.8 583.5,221.0C583.1,219.2 583.1,217.9 583.5,216.6Z" fill="rgb(115,115,115)"/>
<path d="M618.5,246.0C619.5,244.1 621.8,245.0 623.5,243.5C625.2,242.0 626.4,239.1 628.5,237.2C630.6,235.4 633.5,233.7 636.0,232.2C638.5,230.8 641.4,229.3 643.5,228.5C645.6,227.7 647.7,221.4 648.5,227.2C649.3,233.1 653.9,257.5 648.5,263.5C643.1,269.5 621.2,265.0 616.0,263.5C610.8,262.0 616.8,257.7 617.2,254.8C617.7,251.8 617.5,247.9 618.5,246.0Z" fill="rgb(115,115,115)"/>
<path d="M621.6,225.4C622.1,226.9 623.6,231.3 624.8,234.8C625.9,238.2 627.9,244.1 628.5,246.0" fill="none" stroke="rgb(115,115,115)" stroke-width="3.8" stroke-linecap="round" stroke-linejoin="round"/>
<path d="M644.1,192.2C644.8,190.4 647.8,188.9 648.5,192.2C649.2,195.6 649.0,209.0 648.5,212.2C648.0,215.5 646.0,213.1 645.4,211.6C644.7,210.2 644.7,206.7 644.5,203.5C644.3,200.3 643.5,194.1 644.1,192.2Z" fill="rgb(115,115,115)"/>
<path d="M536.0,242.9C537.0,239.5 540.2,243.0 542.2,243.5C544.3,244.0 547.2,244.5 548.5,246.0C549.8,247.5 550.2,250.2 549.8,252.2C549.3,254.3 546.8,256.6 546.0,258.5C545.2,260.4 546.4,262.7 544.8,263.5C543.1,264.3 537.5,266.9 536.0,263.5C534.5,260.1 535.0,246.2 536.0,242.9Z" fill="rgb(115,115,115)"/>
<path d="M554.8,263.5C549.1,262.5 558.7,258.8 561.0,257.2C563.3,255.7 565.6,254.5 568.5,254.1C571.4,253.7 575.2,254.2 578.5,254.8C581.8,255.3 585.8,255.8 588.5,257.2C591.2,258.7 600.4,262.5 594.8,263.5C589.1,264.5 560.4,264.5 554.8,263.5Z" fill="rgb(115,115,115)"/>
<path d="M280.6,260.8C295.1,259.9 354.1,250.1 368.8,260.8C383.4,271.4 375.2,313.9 368.8,324.5C362.3,335.1 337.7,324.9 330.0,324.5C322.3,324.1 324.6,323.2 322.5,322.0C320.4,320.8 319.0,318.7 317.5,317.0C316.0,315.3 315.0,314.3 313.8,312.0C312.5,309.7 310.0,305.5 310.0,303.2C310.0,301.0 312.5,300.1 313.8,298.2C315.0,296.4 317.5,293.9 317.5,292.0C317.5,290.1 315.2,288.7 313.8,287.0C312.3,285.3 310.2,283.5 308.8,282.0C307.3,280.5 306.7,279.3 305.0,278.2C303.3,277.2 300.8,276.4 298.8,275.8C296.7,275.1 294.6,275.5 292.5,274.5C290.4,273.5 288.0,271.0 286.2,269.5C284.5,268.0 282.8,267.2 281.9,265.8C280.9,264.3 266.1,261.6 280.6,260.8Z" fill="rgb(166,166,166)"/>
<path d="M288.1,323.2C286.5,321.8 288.2,316.8 288.8,314.5C289.3,312.2 289.8,310.9 291.2,309.5C292.7,308.1 295.2,307.3 297.5,306.4C299.8,305.4 302.9,304.4 305.0,303.9C307.1,303.4 307.9,301.1 310.0,303.2C312.1,305.4 314.2,313.5 317.5,317.0C320.8,320.5 331.0,323.1 330.0,324.5C329.0,325.9 316.5,325.3 311.2,325.1C306.0,324.9 302.6,323.6 298.8,323.2C294.9,322.9 289.8,324.7 288.1,323.2Z" fill="rgb(166,166,166)"/>
<path d="M255.0,269.5C256.0,264.9 259.6,269.7 261.2,270.8C262.9,271.8 264.2,273.7 265.0,275.8C265.8,277.8 266.5,280.8 266.2,283.2C266.0,285.8 264.8,288.5 263.8,290.8C262.7,293.0 261.5,295.8 260.0,297.0C258.5,298.2 255.8,302.8 255.0,298.2C254.2,293.7 254.0,274.1 255.0,269.5Z" fill="rgb(166,166,166)"/>
<path d="M267.5,270.8C268.2,268.2 270.4,268.5 272.5,268.2C274.6,268.0 277.9,268.8 280.0,269.5C282.1,270.2 283.1,271.7 285.0,272.6C286.9,273.6 289.0,274.2 291.2,275.1C293.5,276.1 296.5,277.3 298.8,278.2C301.0,279.2 302.9,279.3 305.0,280.8C307.1,282.2 309.4,285.1 311.2,287.0C313.1,288.9 315.8,290.3 316.2,292.0C316.7,293.7 315.0,295.5 313.8,297.0C312.5,298.5 310.6,299.7 308.8,300.8C306.9,301.8 304.8,302.8 302.5,303.2C300.2,303.7 297.5,303.5 295.0,303.2C292.5,303.0 290.0,301.8 287.5,302.0C285.0,302.2 282.3,303.7 280.0,304.5C277.7,305.3 275.4,305.8 273.8,307.0C272.1,308.2 270.8,308.2 270.0,312.0C269.2,315.8 271.2,326.6 268.8,329.5C266.2,332.4 257.3,334.5 255.0,329.5C252.7,324.5 253.8,304.9 255.0,299.5C256.2,294.1 260.5,298.2 262.5,297.0C264.5,295.8 265.9,294.3 266.9,292.0C267.8,289.7 268.0,286.8 268.1,283.2C268.2,279.7 266.8,273.2 267.5,270.8Z" fill="rgb(115,115,115)"/>
<path d="M353.0,260.8C354.2,249.5 358.4,261.2 360.5,262.0C362.6,262.8 363.0,265.8 365.5,265.8C368.0,265.8 373.4,262.0 375.5,262.0C377.6,262.0 376.3,264.9 378.0,265.8C379.7,266.6 382.8,267.6 385.5,267.0C388.2,266.4 390.9,262.8 394.2,262.0C397.6,261.2 402.4,261.8 405.5,262.0C408.6,262.2 411.1,261.6 413.0,263.2C414.9,264.9 415.1,269.3 416.8,272.0C418.4,274.7 421.8,277.7 423.0,279.5C424.2,281.3 425.1,281.8 424.2,282.6C423.4,283.5 420.7,284.0 418.0,284.5C415.3,285.0 410.9,285.5 408.0,285.8C405.1,286.0 403.0,285.3 400.5,285.8C398.0,286.2 394.9,287.0 393.0,288.2C391.1,289.5 389.9,291.0 389.2,293.2C388.6,295.5 389.0,299.9 389.2,302.0C389.5,304.1 390.7,303.7 390.5,305.8C390.3,307.8 389.0,312.0 388.0,314.5C387.0,317.0 385.9,319.1 384.2,320.8C382.6,322.4 380.3,323.7 378.0,324.5C375.7,325.3 372.6,324.9 370.5,325.8C368.4,326.6 368.4,328.9 365.5,329.5C362.6,330.1 355.1,341.0 353.0,329.5C350.9,318.0 351.8,272.0 353.0,260.8Z" fill="rgb(166,166,166)"/>
<path d="M425.5,260.8C432.2,259.7 459.9,259.3 466.8,260.8C473.6,262.2 468.0,268.1 466.8,269.5C465.5,270.9 461.5,268.4 459.2,268.9C457.0,269.4 454.9,272.7 453.0,272.6C451.1,272.5 450.1,269.6 448.0,268.2C445.9,266.9 442.6,264.9 440.5,264.5C438.4,264.1 436.5,264.1 435.5,265.8C434.5,267.4 435.1,273.5 434.2,274.5C433.4,275.5 431.8,273.2 430.5,272.0C429.2,270.8 427.6,268.9 426.8,267.0C425.9,265.1 418.8,261.8 425.5,260.8Z" fill="rgb(115,115,115)"/>
<path d="M434.9,277.0C435.8,276.2 437.7,281.2 439.2,283.2C440.8,285.3 442.8,287.4 444.2,289.5C445.7,291.6 447.6,294.1 448.0,295.8C448.4,297.4 448.0,299.2 446.8,299.5C445.5,299.8 442.5,298.4 440.5,297.6C438.5,296.9 436.0,296.7 434.9,295.1C433.8,293.6 434.0,291.3 434.0,288.2C434.0,285.2 434.0,277.8 434.9,277.0Z" fill="rgb(115,115,115)"/>
<path d="M398.6,305.8C399.2,303.8 401.2,301.6 403.0,300.1C404.8,298.7 407.2,297.6 409.2,297.0C411.3,296.4 413.6,296.0 415.5,296.4C417.4,296.8 419.5,298.1 420.5,299.5C421.5,300.9 421.4,302.4 421.8,304.5C422.1,306.6 421.5,309.9 422.4,312.0C423.2,314.1 425.4,315.1 426.8,317.0C428.1,318.9 429.5,321.2 430.5,323.2C431.5,325.3 442.0,328.5 433.0,329.5C424.0,330.5 385.3,330.3 376.8,329.5C368.2,328.7 379.5,325.5 381.8,324.5C384.0,323.5 387.6,323.2 390.5,323.2C393.4,323.2 397.5,325.5 399.2,324.5C401.0,323.5 401.1,319.1 401.1,317.0C401.1,314.9 399.7,313.9 399.2,312.0C398.8,310.1 398.0,307.7 398.6,305.8Z" fill="rgb(115,115,115)"/>
<ellipse cx="446.8" cy="279.5" rx="1.5" ry="5.0" transform="rotate(-25.0 446.8 279.5)" fill="rgb(166,166,166)"/>
<path d="M451.0,260.8C432.0,262.7 450.2,271.3 451.0,272.6C451.8,274.0 453.9,269.4 456.0,268.9C458.1,268.4 461.6,268.1 463.5,269.5C465.4,270.9 465.4,275.5 467.2,277.0C469.1,278.5 472.9,277.0 474.8,278.2C476.6,279.5 478.0,282.2 478.5,284.5C479.0,286.8 477.0,289.6 477.9,292.0C478.7,294.4 483.2,297.0 483.5,298.9C483.8,300.8 481.3,302.1 479.8,303.2C478.2,304.4 473.9,304.9 474.1,305.8C474.3,306.6 478.6,307.4 481.0,308.2C483.4,309.1 486.0,309.5 488.5,310.8C491.0,312.0 493.5,314.1 496.0,315.8C498.5,317.4 501.0,319.3 503.5,320.8C506.0,322.2 508.7,323.0 511.0,324.5C513.3,326.0 508.3,328.7 517.2,329.5C526.2,330.3 556.8,341.0 564.8,329.5C572.7,318.0 583.7,272.2 564.8,260.8C545.8,249.3 470.0,258.8 451.0,260.8Z" fill="rgb(115,115,115)"/>
<polygon points="534.8,260.8 648.5,260.8 648.5,329.5 534.8,329.5" fill="rgb(115,115,115)"/>
<path d="M255.0,353.0C255.8,346.5 258.3,355.7 260.0,356.8C261.7,357.8 263.3,359.9 265.0,359.2C266.7,358.6 268.5,355.1 270.0,353.0C271.5,350.9 272.3,348.6 273.8,346.8C275.2,344.9 276.7,343.0 278.8,341.8C280.8,340.5 283.5,340.0 286.2,339.2C289.0,338.5 292.3,337.2 295.0,337.4C297.7,337.6 300.4,340.4 302.5,340.5C304.6,340.6 305.8,338.9 307.5,338.0C309.2,337.1 310.8,335.0 312.5,334.9C314.2,334.8 315.4,336.9 317.5,337.4C319.6,337.9 322.1,338.2 325.0,338.0C327.9,337.8 332.1,336.2 335.0,336.1C337.9,336.0 339.6,337.5 342.5,337.4C345.4,337.3 349.2,336.0 352.5,335.5C355.8,335.0 359.8,334.7 362.5,334.2C365.2,333.8 367.7,325.9 368.8,333.0C369.8,340.1 369.4,370.1 368.8,376.8C368.1,383.4 366.2,374.2 365.0,373.0C363.8,371.8 362.5,369.9 361.2,369.2C360.0,368.6 359.0,368.2 357.5,369.2C356.0,370.3 354.4,373.6 352.5,375.5C350.6,377.4 348.1,378.6 346.2,380.5C344.4,382.4 342.9,385.3 341.2,386.8C339.6,388.2 337.7,387.8 336.2,389.2C334.8,390.7 346.0,394.5 332.5,395.5C319.0,396.5 267.9,402.6 255.0,395.5C242.1,388.4 254.2,359.5 255.0,353.0Z" fill="rgb(115,115,115)"/>
<path d="M255.0,331.8C256.0,327.9 259.0,333.4 261.2,334.2C263.5,335.1 266.9,335.3 268.8,336.8C270.6,338.2 272.1,340.7 272.5,343.0C272.9,345.3 272.1,348.4 271.2,350.5C270.4,352.6 269.2,354.2 267.5,355.5C265.8,356.8 263.3,357.7 261.2,358.0C259.2,358.3 256.0,361.8 255.0,357.4C254.0,353.0 254.0,335.6 255.0,331.8Z" fill="rgb(166,166,166)"/>
<path d="M341.2,391.8C337.3,390.5 343.3,386.3 345.0,384.2C346.7,382.2 349.2,381.1 351.2,379.2C353.3,377.4 355.8,374.2 357.5,373.0C359.2,371.8 360.0,371.1 361.2,371.8C362.5,372.4 363.8,375.5 365.0,376.8C366.2,378.0 368.1,376.8 368.8,379.2C369.4,381.8 373.3,389.7 368.8,391.8C364.2,393.8 345.2,393.0 341.2,391.8Z" fill="rgb(166,166,166)"/>
<polygon points="364.2,326.8 466.8,326.8 466.8,395.5 364.2,395.5" fill="rgb(115,115,115)"/>
<path d="M451.0,358.0C452.2,352.0 455.8,358.8 458.5,359.2C461.2,359.7 464.3,359.7 467.2,360.5C470.2,361.3 473.1,362.8 476.0,364.2C478.9,365.7 481.8,368.0 484.8,369.2C487.7,370.5 490.8,371.4 493.5,371.8C496.2,372.1 498.5,371.3 501.0,371.1C503.5,370.9 506.0,370.4 508.5,370.5C511.0,370.6 513.9,371.1 516.0,371.8C518.1,372.4 519.8,373.2 521.0,374.2C522.2,375.3 523.3,376.8 523.5,378.0C523.7,379.2 523.5,381.3 522.2,381.8C521.0,382.2 517.9,380.5 516.0,380.5C514.1,380.5 513.1,381.1 511.0,381.8C508.9,382.4 506.4,383.4 503.5,384.2C500.6,385.1 496.8,386.1 493.5,386.8C490.2,387.4 486.4,387.4 483.5,388.0C480.6,388.6 477.7,389.2 476.0,390.5C474.3,391.8 477.7,394.7 473.5,395.5C469.3,396.3 454.8,401.8 451.0,395.5C447.2,389.2 449.8,364.0 451.0,358.0Z" fill="rgb(115,115,115)"/>
<path d="M521.0,326.8C514.5,327.4 524.1,329.0 526.0,330.5C527.9,332.0 530.2,333.8 532.2,335.5C534.3,337.2 536.6,338.6 538.5,340.5C540.4,342.4 541.4,345.2 543.5,346.8C545.6,348.3 548.5,349.5 551.0,349.9C553.5,350.3 556.7,348.7 558.5,349.2C560.3,349.8 560.6,351.5 561.6,353.0C562.7,354.5 564.2,362.4 564.8,358.0C565.3,353.6 572.0,332.0 564.8,326.8C557.5,321.5 527.5,326.1 521.0,326.8Z" fill="rgb(115,115,115)"/>
<ellipse cx="516.4" cy="348.4" rx="2.5" ry="2.5" transform="rotate(0 516.4 348.4)" fill="rgb(115,115,115)"/>
<path d="M504.8,365.5C504.5,364.0 507.9,360.6 509.8,359.2C511.6,357.9 514.1,357.2 516.0,357.4C517.9,357.6 519.8,360.6 521.0,360.5C522.2,360.4 522.5,357.6 523.5,356.8C524.5,355.9 526.7,354.9 527.2,355.5C527.8,356.1 527.0,358.8 526.6,360.5C526.2,362.2 524.6,364.2 524.8,365.5C524.9,366.8 525.8,368.2 527.2,368.0C528.7,367.8 531.6,365.7 533.5,364.2C535.4,362.8 536.4,360.5 538.5,359.2C540.6,358.0 543.3,356.5 546.0,356.8C548.7,357.0 552.2,359.0 554.8,360.5C557.2,362.0 559.3,364.2 561.0,365.5C562.7,366.8 564.1,363.6 564.8,368.0C565.4,372.4 571.4,387.8 564.8,391.8C558.1,395.7 531.6,393.0 524.8,391.8C517.9,390.5 523.6,386.5 523.5,384.2C523.4,382.0 524.3,379.9 524.1,378.0C523.9,376.1 523.2,374.2 522.2,373.0C521.3,371.8 520.4,371.3 518.5,370.5C516.6,369.7 513.3,368.8 511.0,368.0C508.7,367.2 505.0,367.0 504.8,365.5Z" fill="rgb(166,166,166)"/>
<path d="M503.5,391.8C501.1,390.9 507.7,388.0 509.8,386.8C511.8,385.5 514.1,384.5 516.0,384.2C517.9,384.0 519.6,384.2 521.0,385.5C522.4,386.8 527.0,390.7 524.1,391.8C521.2,392.8 505.9,392.6 503.5,391.8Z" fill="rgb(166,166,166)"/>
<path d="M536.0,326.8C544.3,324.9 578.7,325.5 586.0,326.8C593.3,328.0 581.6,332.0 579.8,334.2C577.9,336.5 576.1,338.4 574.8,340.5C573.4,342.6 571.8,344.7 571.6,346.8C571.4,348.8 572.1,351.6 573.5,353.0C574.9,354.4 577.5,354.2 579.8,354.9C582.0,355.5 585.0,355.6 587.2,356.8C589.5,357.9 591.4,359.9 593.5,361.8C595.6,363.6 597.7,365.9 599.8,368.0C601.8,370.1 604.1,372.8 606.0,374.2C607.9,375.7 609.3,377.4 611.0,376.8C612.7,376.1 614.3,371.8 616.0,370.5C617.7,369.2 619.3,369.0 621.0,369.2C622.7,369.5 624.3,370.7 626.0,371.8C627.7,372.8 629.3,374.5 631.0,375.5C632.7,376.5 634.1,377.6 636.0,378.0C637.9,378.4 640.4,378.4 642.2,378.0C644.1,377.6 646.4,373.2 647.2,375.5C648.1,377.8 656.6,389.0 647.2,391.8C637.9,394.5 600.6,392.8 591.0,391.8C581.4,390.7 590.8,387.6 589.8,385.5C588.7,383.4 586.6,381.3 584.8,379.2C582.9,377.2 580.4,375.3 578.5,373.0C576.6,370.7 575.2,367.6 573.5,365.5C571.8,363.4 570.4,362.0 568.5,360.5C566.6,359.0 563.7,358.4 562.2,356.8C560.8,355.1 561.4,351.9 559.8,350.5C558.1,349.1 554.8,349.2 552.2,348.6C549.8,348.0 546.8,347.9 544.8,346.8C542.7,345.6 541.2,343.2 539.8,341.8C538.3,340.3 536.6,340.5 536.0,338.0C535.4,335.5 527.7,328.6 536.0,326.8Z" fill="rgb(115,115,115)"/>
<path d="M536.0,359.2C537.5,353.3 542.0,356.1 544.8,356.1C547.5,356.1 549.8,358.1 552.2,359.2C554.8,360.4 557.2,361.8 559.8,363.0C562.2,364.2 565.0,365.1 567.2,366.8C569.5,368.4 571.6,371.1 573.5,373.0C575.4,374.9 576.6,376.1 578.5,378.0C580.4,379.9 582.9,382.0 584.8,384.2C586.6,386.5 597.9,390.5 589.8,391.8C581.6,393.0 545.0,397.2 536.0,391.8C527.0,386.3 534.5,365.2 536.0,359.2Z" fill="rgb(166,166,166)"/>
<path d="M579.1,344.2C579.3,341.5 581.9,337.8 583.5,335.5C585.1,333.2 586.6,331.8 588.5,330.5C590.4,329.2 592.7,328.6 594.8,328.0C596.8,327.4 598.5,327.0 601.0,326.8C603.5,326.5 607.9,325.3 609.8,326.8C611.6,328.2 611.6,332.2 612.2,335.5C612.9,338.8 613.2,342.8 613.5,346.8C613.8,350.7 613.7,355.9 614.1,359.2C614.5,362.6 616.5,364.7 616.0,366.8C615.5,368.8 612.5,371.1 611.0,371.8C609.5,372.4 608.7,371.5 607.2,370.5C605.8,369.5 604.1,367.2 602.2,365.5C600.4,363.8 598.3,362.3 596.0,360.5C593.7,358.7 590.8,356.3 588.5,354.9C586.2,353.4 583.8,353.5 582.2,351.8C580.7,350.0 578.9,347.0 579.1,344.2Z" fill="rgb(166,166,166)"/>
<path d="M609.8,328.0C610.2,330.1 611.4,336.3 612.2,340.5C613.1,344.7 614.1,349.0 614.8,353.0C615.4,357.0 615.8,362.4 616.0,364.2" fill="none" stroke="rgb(166,166,166)" stroke-width="5.2" stroke-linecap="round" stroke-linejoin="round"/>
<path d="M622.2,348.0C622.5,349.5 623.0,353.8 623.5,356.8C624.0,359.7 625.1,364.0 625.4,365.5" fill="none" stroke="rgb(166,166,166)" stroke-width="5.8" stroke-linecap="round" stroke-linejoin="round"/>
<path d="M631.0,335.5C631.2,337.4 631.6,342.6 632.2,346.8C632.9,350.9 634.1,357.2 634.8,360.5C635.4,363.8 635.8,365.7 636.0,366.8" fill="none" stroke="rgb(166,166,166)" stroke-width="4.5" stroke-linecap="round" stroke-linejoin="round"/>
<path d="M642.2,331.8C642.2,334.2 642.5,342.2 642.2,346.8C642.0,351.3 641.2,357.2 641.0,359.2" fill="none" stroke="rgb(166,166,166)" stroke-width="5.5" stroke-linecap="round" stroke-linejoin="round"/>
<path d="M623.5,330.5 L622.9,343.0" fill="none" stroke="rgb(166,166,166)" stroke-width="3.8" stroke-linecap="round" stroke-linejoin="round"/>
<path d="M348.0,150.0C348.2,146.3 351.5,141.0 353.0,138.0C354.5,135.0 355.3,133.0 357.0,132.0C358.7,131.0 362.0,129.8 363.0,132.0C364.0,134.2 363.5,140.7 363.0,145.0C362.5,149.3 361.8,155.5 360.0,158.0C358.2,160.5 354.0,161.3 352.0,160.0C350.0,158.7 347.8,153.7 348.0,150.0Z" fill="rgb(166,166,166)"/>
<ellipse cx="365.5" cy="153.0" rx="3.0" ry="10.0" transform="rotate(8.0 365.5 153.0)" fill="rgb(166,166,166)"/>
<path d="M277.5,326.8C289.2,325.8 342.5,326.1 355.0,326.8C367.5,327.4 354.6,329.6 352.5,330.5C350.4,331.4 346.2,332.3 342.5,332.4C338.8,332.5 334.2,331.5 330.0,331.1C325.8,330.7 321.2,329.7 317.5,329.9C313.8,330.1 311.0,331.9 307.5,332.4C304.0,332.9 300.0,333.0 296.2,333.0C292.5,333.0 288.1,333.4 285.0,332.4C281.9,331.3 265.8,327.7 277.5,326.8Z" fill="rgb(166,166,166)"/>
<ellipse cx="356.8" cy="183.1" rx="1.4" ry="5.0" transform="rotate(15.0 356.8 183.1)" fill="rgb(140,140,140)"/>
<ellipse cx="363.0" cy="189.4" rx="1.5" ry="4.4" transform="rotate(0 363.0 189.4)" fill="rgb(140,140,140)"/>
<path d="M584.8,130.6C585.7,129.8 590.0,129.6 591.0,130.6C592.0,131.7 591.5,135.6 591.0,136.9C590.5,138.1 588.8,138.3 587.9,138.1C586.9,137.9 585.9,136.9 585.4,135.6C584.9,134.4 583.8,131.5 584.8,130.6Z" fill="rgb(140,140,140)"/>
<path d="M626.0,130.6C627.6,129.5 634.3,129.5 636.0,130.6C637.7,131.8 636.8,135.8 636.0,137.5C635.2,139.2 632.6,140.6 631.0,140.6C629.4,140.6 627.5,139.2 626.6,137.5C625.8,135.8 624.4,131.8 626.0,130.6Z" fill="rgb(140,140,140)"/>
<path d="M639.8,168.8C640.4,168.1 642.6,169.6 643.5,171.2C644.4,172.9 645.6,177.3 645.4,178.8C645.2,180.2 643.2,180.6 642.2,180.0C641.3,179.4 640.2,176.9 639.8,175.0C639.3,173.1 639.1,169.4 639.8,168.8Z" fill="rgb(140,140,140)"/>
<path d="M601.6,164.4C602.4,167.0 604.4,174.5 606.0,180.0C607.6,185.5 610.2,194.6 611.0,197.5" fill="none" stroke="rgb(115,115,115)" stroke-width="2.5" stroke-linecap="round" stroke-linejoin="round"/>
<path d="M255.0,179.4C255.8,175.7 258.5,177.6 260.0,178.1C261.5,178.6 263.0,180.5 263.8,182.5C264.5,184.5 264.7,187.1 264.4,190.0C264.1,192.9 263.4,198.3 261.9,200.0C260.3,201.7 256.1,203.4 255.0,200.0C253.9,196.6 254.2,183.0 255.0,179.4Z" fill="rgb(140,140,140)"/>
<path d="M262.5,201.0C262.3,200.2 264.9,198.2 266.2,197.2C267.6,196.2 269.4,195.1 270.6,195.0C271.9,194.9 272.4,195.4 273.8,196.6C275.1,197.8 279.8,201.3 278.8,202.2C277.7,203.2 270.2,202.5 267.5,202.2C264.8,202.0 262.7,201.8 262.5,201.0Z" fill="rgb(140,140,140)"/>
<path d="M355.0,263.5C354.4,262.2 355.1,257.5 355.6,256.0C356.1,254.5 357.5,253.5 358.1,254.8C358.8,256.0 359.9,262.0 359.4,263.5C358.9,265.0 355.6,264.8 355.0,263.5Z" fill="rgb(115,115,115)"/>
<path d="M624.1,238.5C624.5,240.2 625.8,245.2 626.6,248.5C627.5,251.8 628.7,256.8 629.1,258.5" fill="none" stroke="rgb(140,140,140)" stroke-width="2.2" stroke-linecap="round" stroke-linejoin="round"/>
<path d="M623.5,252.2 L622.5,263.5" fill="none" stroke="rgb(140,140,140)" stroke-width="1.5" stroke-linecap="round" stroke-linejoin="round"/>
<ellipse cx="638.5" cy="250.4" rx="5.0" ry="7.5" transform="rotate(20.0 638.5 250.4)" fill="rgb(140,140,140)"/>
<path d="M305.6,262.0C306.9,260.9 315.1,260.3 317.5,261.4C319.9,262.4 319.2,265.4 320.0,268.2C320.8,271.1 321.7,275.1 322.5,278.2C323.3,281.4 324.7,283.5 325.0,287.0C325.3,290.5 325.0,296.8 324.4,299.5C323.8,302.2 322.2,304.1 321.2,303.2C320.3,302.4 319.4,297.6 318.8,294.5C318.1,291.4 318.1,287.8 317.5,284.5C316.9,281.2 316.2,277.2 315.0,274.5C313.8,271.8 311.6,270.3 310.0,268.2C308.4,266.2 304.4,263.1 305.6,262.0Z" fill="rgb(140,140,140)"/>
<path d="M369.9,294.5C370.1,292.7 370.8,289.5 371.8,287.0C372.7,284.5 374.4,280.1 375.5,279.5C376.6,278.9 378.2,281.4 378.6,283.2C379.0,285.1 378.7,288.5 378.0,290.8C377.3,293.0 375.5,295.9 374.2,297.0C373.0,298.1 371.2,298.0 370.5,297.6C369.8,297.2 369.7,296.3 369.9,294.5Z" fill="rgb(140,140,140)"/>
<ellipse cx="571.6" cy="291.4" rx="6.0" ry="6.2" transform="rotate(0 571.6 291.4)" fill="rgb(140,140,140)"/>
<ellipse cx="589.1" cy="327.6" rx="3.8" ry="3.8" transform="rotate(0 589.1 327.6)" fill="rgb(140,140,140)"/>
<path d="M268.8,380.5C269.2,378.0 271.9,373.4 273.8,370.5C275.6,367.6 277.7,365.1 280.0,363.0C282.3,360.9 285.0,359.0 287.5,358.0C290.0,357.0 293.1,356.1 295.0,356.8C296.9,357.4 298.3,359.7 298.8,361.8C299.2,363.8 298.5,366.8 297.5,369.2C296.5,371.8 294.4,374.7 292.5,376.8C290.6,378.8 288.5,380.3 286.2,381.8C284.0,383.2 281.2,384.9 278.8,385.5C276.2,386.1 272.9,386.3 271.2,385.5C269.6,384.7 268.3,383.0 268.8,380.5Z" fill="rgb(140,140,140)"/>
<path d="M310.6,335.5C310.1,337.4 308.6,342.8 307.5,346.8C306.4,350.7 304.6,355.1 303.8,359.2C302.9,363.4 302.6,367.8 302.5,371.8C302.4,375.7 303.0,381.1 303.1,383.0" fill="none" stroke="rgb(140,140,140)" stroke-width="2.8" stroke-linecap="round" stroke-linejoin="round"/>
<path d="M312.5,350.5C312.1,352.2 310.8,357.2 310.0,360.5C309.2,363.8 307.9,368.8 307.5,370.5" fill="none" stroke="rgb(140,140,140)" stroke-width="1.5" stroke-linecap="round" stroke-linejoin="round"/>
<path d="M255.0,380.5C255.8,378.4 258.8,378.6 260.0,379.2C261.2,379.9 262.3,382.2 262.5,384.2C262.7,386.3 262.5,390.5 261.2,391.8C260.0,393.0 256.0,393.6 255.0,391.8C254.0,389.9 254.2,382.6 255.0,380.5Z" fill="rgb(140,140,140)"/>
<ellipse cx="310.0" cy="381.8" rx="4.4" ry="2.5" transform="rotate(0 310.0 381.8)" fill="rgb(140,140,140)"/>
<path d="M404.2,359.2C403.8,356.8 404.0,349.9 405.5,346.8C407.0,343.6 410.1,342.1 413.0,340.5C415.9,338.9 420.3,337.6 423.0,337.4C425.7,337.2 427.6,337.9 429.2,339.2C430.9,340.6 431.3,344.1 433.0,345.5C434.7,346.9 437.6,347.3 439.2,347.4C440.9,347.5 442.3,344.8 443.0,346.1C443.7,347.5 443.1,352.5 443.6,355.5C444.1,358.5 444.8,361.5 446.1,364.2C447.5,367.0 450.2,369.5 451.8,371.8C453.3,374.0 455.3,376.1 455.5,378.0C455.7,379.9 454.7,381.8 453.0,383.0C451.3,384.2 448.0,384.7 445.5,385.5C443.0,386.3 440.1,387.6 438.0,388.0C435.9,388.4 434.0,388.4 433.0,388.0C432.0,387.6 430.7,386.5 431.8,385.5C432.8,384.5 437.2,383.2 439.2,381.8C441.3,380.3 443.2,378.6 444.2,376.8C445.3,374.9 446.1,372.0 445.5,370.5C444.9,369.0 442.6,368.6 440.5,368.0C438.4,367.4 434.9,367.8 433.0,366.8C431.1,365.7 430.9,362.9 429.2,361.8C427.6,360.6 425.3,359.9 423.0,359.9C420.7,359.9 418.0,361.4 415.5,361.8C413.0,362.1 409.9,362.2 408.0,361.8C406.1,361.3 404.7,361.8 404.2,359.2Z" fill="rgb(140,140,140)"/>
<path d="M428.0,325.5C421.8,325.7 430.5,326.5 432.5,326.9C434.5,327.2 438.1,326.1 440.0,327.5C441.9,328.9 442.7,332.1 443.8,335.0C444.8,337.9 445.0,343.3 446.2,345.0C447.5,346.7 450.4,343.1 451.2,345.0C452.1,346.9 450.0,353.9 451.2,356.2C452.5,358.6 455.6,358.3 458.8,359.4C461.9,360.4 468.1,368.1 470.0,362.5C471.9,356.9 477.0,331.7 470.0,325.5C463.0,319.3 434.2,325.3 428.0,325.5Z" fill="rgb(140,140,140)"/>
<path d="M369.2,365.5C370.0,363.8 372.2,362.3 374.2,361.8C376.3,361.2 379.2,361.5 381.8,362.4C384.2,363.2 386.8,365.4 389.2,366.8C391.8,368.1 394.8,368.8 396.8,370.5C398.7,372.2 400.1,374.7 401.1,376.8C402.2,378.8 403.3,381.5 403.0,383.0C402.7,384.5 401.3,384.9 399.2,385.5C397.2,386.1 393.0,386.8 390.5,386.8C388.0,386.8 386.3,386.5 384.2,385.5C382.2,384.5 379.9,380.7 378.0,380.5C376.1,380.3 374.2,384.7 373.0,384.2C371.8,383.8 371.0,380.1 370.5,378.0C370.0,375.9 370.1,373.8 369.9,371.8C369.7,369.7 368.5,367.2 369.2,365.5Z" fill="rgb(140,140,140)"/>
<path d="M365.5,326.8C367.2,325.9 376.5,326.1 378.0,326.8C379.5,327.4 375.9,329.7 374.2,330.5C372.6,331.3 369.5,332.4 368.0,331.8C366.5,331.1 363.8,327.6 365.5,326.8Z" fill="rgb(140,140,140)"/>
<ellipse cx="452.2" cy="378.0" rx="3.5" ry="5.0" transform="rotate(0 452.2 378.0)" fill="rgb(140,140,140)"/>
<ellipse cx="638.5" cy="250.4" rx="2.8" ry="5.2" transform="rotate(20.0 638.5 250.4)" fill="rgb(166,166,166)"/>
<path d="M276.2,376.8C276.7,374.7 278.3,370.5 280.0,368.0C281.7,365.5 284.2,363.2 286.2,361.8C288.3,360.3 290.9,359.0 292.5,359.2C294.1,359.5 295.4,361.1 295.6,363.0C295.8,364.9 294.9,368.2 293.8,370.5C292.6,372.8 290.6,375.1 288.8,376.8C286.9,378.4 284.4,379.9 282.5,380.5C280.6,381.1 278.5,381.1 277.5,380.5C276.5,379.9 275.8,378.8 276.2,376.8Z" fill="rgb(166,166,166)"/>
<path d="M309.4,341.8C308.9,343.6 307.1,349.7 306.2,353.0C305.4,356.3 304.7,360.3 304.4,361.8" fill="none" stroke="rgb(166,166,166)" stroke-width="1.0" stroke-linecap="round" stroke-linejoin="round"/>
<ellipse cx="418.9" cy="349.2" rx="2.5" ry="3.1" transform="rotate(0 418.9 349.2)" fill="rgb(166,166,166)"/>
<path d="M376.1,365.5C376.3,364.5 377.9,363.8 379.2,364.2C380.6,364.7 382.4,366.5 384.2,368.0C386.1,369.5 388.7,371.3 390.5,373.0C392.3,374.7 394.5,376.8 394.9,378.0C395.3,379.2 394.1,380.5 393.0,380.5C391.9,380.5 389.7,379.0 388.0,378.0C386.3,377.0 384.7,375.5 383.0,374.2C381.3,373.0 379.1,372.0 378.0,370.5C376.9,369.0 375.9,366.5 376.1,365.5Z" fill="rgb(166,166,166)"/>
<path d="M283.1,371.8C283.4,370.2 284.9,367.1 286.2,365.5C287.6,363.9 289.9,362.6 291.2,362.4C292.6,362.2 294.2,363.1 294.4,364.2C294.6,365.4 293.5,367.7 292.5,369.2C291.5,370.8 289.5,372.7 288.1,373.6C286.8,374.6 285.2,375.2 284.4,374.9C283.5,374.6 282.8,373.3 283.1,371.8Z" fill="rgb(191,191,191)"/>
<path d="M422.5,256.2C422.9,254.4 425.8,252.7 427.5,253.8C429.2,254.8 431.1,259.2 432.5,262.5C433.9,265.8 435.2,270.8 435.6,273.8C436.0,276.7 435.9,280.0 435.0,280.0C434.1,280.0 431.7,276.2 430.0,273.8C428.3,271.2 426.2,267.9 425.0,265.0C423.8,262.1 422.1,258.1 422.5,256.2Z" fill="rgb(115,115,115)"/>
<ellipse cx="337.5" cy="159.4" rx="9.0" ry="7.8" transform="rotate(0 337.5 159.4)" fill="rgb(191,191,191)"/>
<path d="M342.5,155.0C343.1,152.9 347.5,150.2 348.8,150.0C350.0,149.8 350.6,151.7 350.0,153.8C349.4,155.8 346.2,162.3 345.0,162.5C343.8,162.7 341.9,157.1 342.5,155.0Z" fill="rgb(191,191,191)"/>
<path d="M352.5,158.8C352.5,157.4 354.0,153.6 355.0,151.2C356.0,148.9 358.1,144.4 358.8,144.4C359.4,144.4 359.6,148.8 359.0,151.2C358.4,153.8 356.1,158.1 355.0,159.4C353.9,160.6 352.5,160.1 352.5,158.8Z" fill="rgb(191,191,191)"/>
<ellipse cx="281.9" cy="162.2" rx="1.1" ry="1.5" transform="rotate(0 281.9 162.2)" fill="rgb(191,191,191)"/>
<ellipse cx="268.8" cy="133.1" rx="1.5" ry="2.2" transform="rotate(0 268.8 133.1)" fill="rgb(89,89,89)"/>
<path d="M255.0,159.4C256.2,156.4 260.6,157.0 262.5,158.1C264.4,159.3 264.8,163.2 266.2,166.2C267.7,169.3 269.6,174.2 271.2,176.2C272.9,178.3 274.0,179.2 276.2,178.8C278.5,178.3 282.5,175.2 285.0,173.8C287.5,172.3 289.4,170.0 291.2,170.0C293.1,170.0 295.8,172.7 296.2,173.8C296.7,174.8 294.9,175.5 293.8,176.2C292.6,177.0 290.3,176.9 289.4,178.1C288.4,179.4 288.5,181.8 288.1,183.8C287.7,185.7 287.6,188.3 286.9,190.0C286.1,191.7 285.3,193.3 283.8,193.8C282.2,194.2 279.4,193.3 277.5,192.5C275.6,191.7 274.2,189.2 272.5,188.8C270.8,188.3 268.6,188.5 267.5,190.0C266.4,191.5 266.5,196.2 265.6,197.5C264.8,198.8 262.6,200.0 262.5,197.5C262.4,195.0 265.0,186.2 265.0,182.5C265.0,178.8 264.2,176.0 262.5,175.0C260.8,174.0 256.2,178.9 255.0,176.2C253.8,173.6 253.8,162.4 255.0,159.4Z" fill="rgb(89,89,89)"/>
<path d="M305.0,200.0C297.1,198.3 304.2,191.8 305.0,190.0C305.8,188.2 307.3,190.4 310.0,189.4C312.7,188.3 317.9,185.5 321.2,183.8C324.6,182.0 326.5,180.0 330.0,178.8C333.5,177.5 339.5,176.0 342.5,176.2C345.5,176.5 346.6,180.2 348.1,180.0C349.7,179.8 350.7,177.1 351.9,175.0C353.0,172.9 353.9,169.0 355.0,167.5C356.1,166.0 357.9,165.6 358.8,166.2C359.6,166.9 360.2,169.4 360.0,171.2C359.8,173.1 358.5,175.2 357.5,177.5C356.5,179.8 354.6,181.2 353.8,185.0C352.9,188.8 360.6,197.5 352.5,200.0C344.4,202.5 312.9,201.7 305.0,200.0Z" fill="rgb(89,89,89)"/>
<ellipse cx="406.8" cy="195.0" rx="4.8" ry="3.5" transform="rotate(0 406.8 195.0)" fill="rgb(89,89,89)"/>
<path d="M353.0,167.5C353.6,164.4 355.9,164.2 356.8,165.0C357.6,165.8 358.3,169.6 358.0,172.5C357.7,175.4 355.7,180.6 354.9,182.5C354.0,184.4 353.3,186.2 353.0,183.8C352.7,181.2 352.4,170.6 353.0,167.5Z" fill="rgb(89,89,89)"/>
<ellipse cx="362.6" cy="176.2" rx="1.2" ry="3.8" transform="rotate(0 362.6 176.2)" fill="rgb(89,89,89)"/>
<ellipse cx="370.5" cy="182.5" rx="1.1" ry="4.4" transform="rotate(15.0 370.5 182.5)" fill="rgb(89,89,89)"/>
<path d="M504.1,131.2C499.8,132.1 504.6,134.4 506.0,136.2C507.4,138.1 510.6,140.2 512.2,142.5C513.9,144.8 513.7,147.6 516.0,150.0C518.3,152.4 523.3,154.8 526.0,156.9C528.7,159.0 529.8,160.7 532.2,162.5C534.8,164.3 537.9,165.9 541.0,167.5C544.1,169.1 547.9,171.0 551.0,171.9C554.1,172.7 557.5,171.8 559.8,172.5C562.0,173.2 563.9,179.4 564.8,176.2C565.6,173.1 566.2,157.0 564.8,153.8C563.3,150.5 558.7,156.8 556.0,156.9C553.3,157.0 550.6,155.4 548.5,154.4C546.4,153.3 545.4,152.4 543.5,150.6C541.6,148.9 538.9,145.9 537.2,143.8C535.6,141.6 534.3,139.6 533.5,137.5C532.7,135.4 537.1,132.3 532.2,131.2C527.4,130.2 508.5,130.4 504.1,131.2Z" fill="rgb(89,89,89)"/>
<path d="M536.0,143.1C537.2,141.0 541.0,147.3 543.5,148.8C546.0,150.2 548.1,151.7 551.0,151.9C553.9,152.1 557.9,150.1 561.0,150.0C564.1,149.9 567.5,150.0 569.8,151.2C572.0,152.5 573.5,155.0 574.8,157.5C576.0,160.0 576.9,163.5 577.2,166.2C577.6,169.0 577.5,172.5 576.6,173.8C575.8,175.0 574.2,173.9 572.2,173.8C570.3,173.6 567.5,174.2 564.8,173.1C562.0,172.1 558.7,168.4 556.0,167.5C553.3,166.6 551.0,168.1 548.5,167.5C546.0,166.9 543.1,164.8 541.0,163.8C538.9,162.7 536.8,164.7 536.0,161.2C535.2,157.8 534.8,145.2 536.0,143.1Z" fill="rgb(89,89,89)"/>
<path d="M571.6,130.6C572.6,129.2 576.8,129.3 578.5,130.6C580.2,132.0 580.2,136.4 581.6,138.8C583.1,141.1 585.6,143.1 587.2,145.0C588.9,146.9 590.7,147.7 591.6,150.0C592.6,152.3 592.4,155.4 592.9,158.8C593.4,162.1 593.8,166.5 594.8,170.0C595.7,173.5 598.1,177.3 598.5,180.0C598.9,182.7 598.3,186.2 597.2,186.2C596.2,186.2 593.7,181.7 592.2,180.0C590.8,178.3 589.9,176.4 588.5,176.2C587.1,176.1 585.6,177.9 584.1,179.4C582.7,180.8 581.2,184.8 579.8,185.0C578.3,185.2 575.8,182.7 575.4,180.6C575.0,178.5 576.0,174.1 577.2,172.5C578.5,170.9 582.0,173.1 582.9,171.2C583.7,169.4 582.6,164.4 582.2,161.2C581.9,158.1 581.8,155.2 581.0,152.5C580.2,149.8 578.6,147.2 577.2,145.0C575.9,142.8 573.8,141.8 572.9,139.4C571.9,137.0 570.7,132.1 571.6,130.6Z" fill="rgb(89,89,89)"/>
<path d="M592.9,130.6C597.7,128.6 618.4,129.5 623.5,130.6C628.6,131.8 622.7,135.3 623.5,137.5C624.3,139.7 626.6,141.9 628.5,143.8C630.4,145.6 633.3,146.7 634.8,148.8C636.2,150.8 637.2,153.8 637.2,156.2C637.2,158.8 636.2,162.1 634.8,163.8C633.3,165.4 630.6,166.5 628.5,166.2C626.4,166.0 624.1,162.7 622.2,162.5C620.4,162.3 619.1,165.4 617.2,165.0C615.4,164.6 612.9,160.4 611.0,160.0C609.1,159.6 607.7,162.3 606.0,162.5C604.3,162.7 602.5,162.9 601.0,161.2C599.5,159.6 598.3,155.6 597.2,152.5C596.2,149.4 595.5,146.1 594.8,142.5C594.0,138.9 588.1,132.6 592.9,130.6Z" fill="rgb(89,89,89)"/>
<path d="M609.8,188.8C610.2,187.9 611.6,191.0 612.2,192.5C612.9,194.0 613.9,196.7 613.5,197.5C613.1,198.3 610.4,199.0 609.8,197.5C609.1,196.0 609.3,189.6 609.8,188.8Z" fill="rgb(89,89,89)"/>
<ellipse cx="566.6" cy="193.1" rx="2.5" ry="3.1" transform="rotate(0 566.6 193.1)" fill="rgb(191,191,191)"/>
<ellipse cx="318.5" cy="250.4" rx="0.9" ry="0.9" transform="rotate(0 318.5 250.4)" fill="rgb(89,89,89)"/>
<ellipse cx="262.5" cy="257.2" rx="3.5" ry="5.0" transform="rotate(20.0 262.5 257.2)" fill="rgb(89,89,89)"/>
<ellipse cx="264.8" cy="241.0" rx="3.8" ry="5.6" transform="rotate(20.0 264.8 241.0)" fill="rgb(191,191,191)"/>
<path d="M271.2,254.8C272.1,253.1 275.2,252.9 277.5,253.5C279.8,254.1 283.3,256.8 285.0,258.5C286.7,260.2 289.6,262.7 287.5,263.5C285.4,264.3 275.2,265.0 272.5,263.5C269.8,262.0 270.4,256.4 271.2,254.8Z" fill="rgb(191,191,191)"/>
<ellipse cx="367.5" cy="244.8" rx="2.8" ry="6.2" transform="rotate(0 367.5 244.8)" fill="rgb(191,191,191)"/>
<path d="M337.5,263.5C336.0,262.5 339.6,258.3 341.2,257.2C342.9,256.2 346.0,256.2 347.5,257.2C349.0,258.3 351.7,262.5 350.0,263.5C348.3,264.5 339.0,264.5 337.5,263.5Z" fill="rgb(191,191,191)"/>
<path d="M288.1,194.8C275.4,196.4 290.8,201.6 292.5,204.8C294.2,207.9 296.2,211.0 298.1,213.5C300.0,216.0 301.8,218.2 303.8,219.8C305.7,221.2 307.3,222.3 310.0,222.5C312.7,222.7 316.7,222.0 320.0,221.0C323.3,220.0 327.3,217.8 330.0,216.6C332.7,215.5 334.2,214.4 336.2,214.1C338.3,213.8 340.5,214.9 342.5,214.8C344.5,214.6 346.9,213.1 348.1,213.5C349.4,213.9 349.5,216.0 350.0,217.2C350.5,218.5 350.4,221.2 351.2,221.0C352.1,220.8 353.5,216.2 355.0,216.0C356.5,215.8 358.3,220.0 360.0,219.8C361.7,219.5 363.5,216.0 365.0,214.8C366.5,213.5 368.1,215.6 368.8,212.2C369.4,208.9 382.2,197.7 368.8,194.8C355.3,191.8 300.8,193.1 288.1,194.8Z" fill="rgb(89,89,89)"/>
<path d="M260.0,222.2C260.2,220.7 262.1,217.8 263.8,216.0C265.4,214.2 268.1,212.5 270.0,211.6C271.9,210.8 274.1,210.3 275.0,211.0C275.9,211.7 276.2,214.3 275.6,216.0C275.0,217.7 272.7,219.3 271.2,221.0C269.8,222.7 268.3,225.3 266.9,226.0C265.4,226.7 263.6,226.0 262.5,225.4C261.4,224.8 259.8,223.8 260.0,222.2Z" fill="rgb(89,89,89)"/>
<ellipse cx="260.0" cy="207.9" rx="1.2" ry="1.9" transform="rotate(0 260.0 207.9)" fill="rgb(89,89,89)"/>
<ellipse cx="294.4" cy="227.2" rx="1.8" ry="3.8" transform="rotate(-20.0 294.4 227.2)" fill="rgb(89,89,89)"/>
<ellipse cx="287.5" cy="236.6" rx="1.8" ry="3.5" transform="rotate(-20.0 287.5 236.6)" fill="rgb(89,89,89)"/>
<ellipse cx="296.0" cy="252.2" rx="1.2" ry="2.8" transform="rotate(-25.0 296.0 252.2)" fill="rgb(89,89,89)"/>
<path d="M394.2,248.5C394.0,247.0 395.5,244.1 396.8,242.2C398.0,240.4 400.2,238.2 401.8,237.2C403.3,236.3 405.3,235.8 406.1,236.6C407.0,237.5 407.3,240.5 406.8,242.2C406.2,244.0 404.5,245.8 403.0,247.2C401.5,248.7 399.5,250.8 398.0,251.0C396.5,251.2 394.5,250.0 394.2,248.5Z" fill="rgb(89,89,89)"/>
<ellipse cx="369.9" cy="256.6" rx="2.5" ry="4.8" transform="rotate(20.0 369.9 256.6)" fill="rgb(89,89,89)"/>
<ellipse cx="389.2" cy="255.4" rx="1.2" ry="1.2" transform="rotate(0 389.2 255.4)" fill="rgb(89,89,89)"/>
<path d="M466.8,224.1C465.5,218.5 461.8,224.9 459.2,226.0C456.8,227.1 454.0,229.1 451.8,231.0C449.5,232.9 447.6,235.4 445.5,237.2C443.4,239.1 441.8,241.2 439.2,242.2C436.8,243.3 432.2,242.5 430.5,243.5C428.8,244.5 428.8,246.8 429.2,248.5C429.7,250.2 431.1,252.5 433.0,253.5C434.9,254.5 438.0,254.3 440.5,254.8C443.0,255.2 445.9,255.4 448.0,256.0C450.1,256.6 449.9,257.9 453.0,258.5C456.1,259.1 464.5,265.5 466.8,259.8C469.0,254.0 468.0,229.8 466.8,224.1Z" fill="rgb(89,89,89)"/>
<path d="M353.0,194.8C343.0,199.9 352.2,220.7 353.0,225.4C353.8,230.1 356.3,223.0 358.0,222.9C359.7,222.8 361.6,223.7 363.0,224.8C364.4,225.8 365.1,228.9 366.1,229.1C367.2,229.3 367.9,226.8 369.2,226.0C370.6,225.2 372.2,224.2 374.2,224.1C376.3,224.0 379.5,225.6 381.8,225.4C384.0,225.2 385.9,223.8 388.0,222.9C390.1,221.9 391.8,220.8 394.2,219.8C396.8,218.7 400.9,218.1 403.0,216.6C405.1,215.2 405.7,212.6 406.8,211.0C407.8,209.4 408.2,208.0 409.2,207.2C410.3,206.5 411.5,206.2 413.0,206.6C414.5,207.0 416.3,208.0 418.0,209.8C419.7,211.5 421.5,215.7 423.0,217.2C424.5,218.8 425.7,219.5 426.8,219.1C427.8,218.7 429.0,216.5 429.2,214.8C429.5,213.0 429.0,209.9 428.0,208.5C427.0,207.1 424.7,207.1 423.0,206.6C421.3,206.1 419.5,206.3 418.0,205.4C416.5,204.4 415.1,202.8 414.2,201.0C413.4,199.2 423.2,195.8 413.0,194.8C402.8,193.7 363.0,189.6 353.0,194.8Z" fill="rgb(89,89,89)"/>
<path d="M364.9,246.0C365.0,244.1 365.6,240.8 366.8,238.5C367.9,236.2 370.2,233.5 371.8,232.2C373.3,231.0 375.3,230.4 376.1,231.0C377.0,231.6 377.3,234.1 376.8,236.0C376.2,237.9 374.2,240.4 373.0,242.2C371.8,244.1 370.4,246.0 369.2,247.2C368.1,248.5 366.9,250.0 366.1,249.8C365.4,249.5 364.8,247.9 364.9,246.0Z" fill="rgb(191,191,191)"/>
<path d="M469.1,201.6C469.3,200.4 469.9,198.2 471.0,197.2C472.1,196.3 474.4,196.0 476.0,196.0C477.6,196.0 479.3,196.0 480.4,197.2C481.4,198.5 483.0,202.2 482.2,203.5C481.5,204.8 478.1,204.5 476.0,204.8C473.9,205.0 470.9,205.3 469.8,204.8C468.6,204.2 468.9,202.9 469.1,201.6Z" fill="rgb(191,191,191)"/>
<path d="M526.6,218.5C527.2,217.1 529.0,215.0 531.0,214.1C533.0,213.3 535.8,213.2 538.5,213.5C541.2,213.8 544.5,214.5 547.2,216.0C550.0,217.5 551.8,220.0 554.8,222.2C557.7,224.5 563.1,227.0 564.8,229.8C566.4,232.5 566.0,236.9 564.8,238.5C563.5,240.1 559.8,239.3 557.2,239.1C554.8,238.9 552.0,238.0 549.8,237.2C547.5,236.5 545.6,236.0 543.5,234.8C541.4,233.5 539.3,231.2 537.2,229.8C535.2,228.3 532.7,227.2 531.0,226.0C529.3,224.8 528.0,223.5 527.2,222.2C526.5,221.0 526.0,219.9 526.6,218.5Z" fill="rgb(191,191,191)"/>
<path d="M451.0,224.8C452.2,219.1 455.8,223.0 458.5,222.2C461.2,221.5 463.9,220.8 467.2,220.4C470.6,220.0 475.0,219.8 478.5,219.8C482.0,219.8 485.2,220.0 488.5,220.4C491.8,220.8 495.8,221.2 498.5,222.2C501.2,223.3 502.9,225.0 504.8,226.6C506.6,228.3 507.5,230.5 509.8,232.2C512.0,234.0 516.0,235.3 518.5,237.2C521.0,239.2 522.7,242.5 524.8,244.1C526.8,245.8 527.9,246.5 531.0,247.2C534.1,248.0 541.2,247.5 543.5,248.5C545.8,249.5 544.9,251.0 544.8,253.5C544.6,256.0 549.3,261.8 542.9,263.5C536.4,265.2 511.5,264.3 506.0,263.5C500.5,262.7 508.5,260.0 509.8,258.5C511.0,257.0 512.7,256.0 513.5,254.8C514.3,253.5 515.0,251.4 514.8,251.0C514.5,250.6 513.5,251.2 512.2,252.2C511.0,253.3 509.1,256.8 507.2,257.2C505.4,257.7 503.3,255.0 501.0,254.8C498.7,254.5 495.6,255.2 493.5,256.0C491.4,256.8 491.4,259.3 488.5,259.8C485.6,260.2 480.2,258.8 476.0,258.5C471.8,258.2 467.7,258.3 463.5,257.9C459.3,257.5 453.1,261.5 451.0,256.0C448.9,250.5 449.8,230.4 451.0,224.8Z" fill="rgb(89,89,89)"/>
<path d="M536.0,219.8C537.0,217.5 540.0,217.4 542.2,217.2C544.5,217.1 547.5,218.0 549.8,219.1C552.0,220.3 553.5,222.6 556.0,224.1C558.5,225.7 561.8,227.1 564.8,228.5C567.7,229.9 570.4,231.2 573.5,232.2C576.6,233.3 580.6,234.2 583.5,234.8C586.4,235.3 588.5,234.6 591.0,235.4C593.5,236.1 595.8,237.5 598.5,239.1C601.2,240.8 604.5,243.4 607.2,245.4C610.0,247.4 612.8,248.8 614.8,251.0C616.7,253.2 618.3,256.4 619.1,258.5C620.0,260.6 622.4,262.7 619.8,263.5C617.1,264.3 607.0,264.5 603.5,263.5C600.0,262.5 600.6,258.8 598.5,257.2C596.4,255.7 593.3,255.0 591.0,254.1C588.7,253.3 586.6,253.4 584.8,252.2C582.9,251.1 581.6,248.9 579.8,247.2C577.9,245.6 575.8,243.6 573.5,242.2C571.2,240.9 568.7,239.6 566.0,239.1C563.3,238.6 560.2,239.4 557.2,239.1C554.3,238.8 551.2,238.2 548.5,237.2C545.8,236.3 543.1,234.5 541.0,233.5C538.9,232.5 536.8,233.3 536.0,231.0C535.2,228.7 535.0,222.0 536.0,219.8Z" fill="rgb(191,191,191)"/>
<path d="M566.6,194.8C568.3,193.9 575.0,193.5 577.2,194.8C579.5,196.0 580.1,200.1 580.4,202.2C580.7,204.4 580.3,206.8 579.1,207.9C578.0,208.9 575.1,209.0 573.5,208.5C571.9,208.0 570.8,206.2 569.8,204.8C568.7,203.3 567.8,201.4 567.2,199.8C566.7,198.1 565.0,195.6 566.6,194.8Z" fill="rgb(191,191,191)"/>
<path d="M584.8,194.8C586.2,193.9 592.5,193.5 594.8,194.8C597.0,196.0 597.0,199.5 598.5,202.2C600.0,205.0 602.6,208.3 603.5,211.0C604.4,213.7 604.8,217.5 604.1,218.5C603.5,219.5 601.3,218.5 599.8,217.2C598.2,216.0 596.4,213.1 594.8,211.0C593.1,208.9 591.2,206.6 589.8,204.8C588.3,202.9 586.8,201.4 586.0,199.8C585.2,198.1 583.3,195.6 584.8,194.8Z" fill="rgb(191,191,191)"/>
<ellipse cx="622.2" cy="216.0" rx="1.2" ry="4.4" transform="rotate(-10.0 622.2 216.0)" fill="rgb(191,191,191)"/>
<path d="M586.0,220.4C586.1,218.8 587.2,217.5 588.5,217.2C589.8,217.0 591.6,218.1 593.5,219.1C595.4,220.2 597.7,221.7 599.8,223.5C601.8,225.3 604.3,228.3 606.0,229.8C607.7,231.2 609.0,232.8 609.8,232.2C610.5,231.7 609.6,227.6 610.4,226.6C611.1,225.7 612.9,225.7 614.1,226.6C615.4,227.6 616.9,230.2 617.9,232.2C618.8,234.3 620.1,237.4 619.8,239.1C619.4,240.9 617.5,242.5 616.0,242.9C614.5,243.3 612.9,242.0 611.0,241.6C609.1,241.2 606.8,241.0 604.8,240.4C602.7,239.8 600.6,239.2 598.5,237.9C596.4,236.5 594.0,234.1 592.2,232.2C590.5,230.4 588.9,228.6 587.9,226.6C586.8,224.6 585.9,221.9 586.0,220.4Z" fill="rgb(89,89,89)"/>
<path d="M622.0,226.0C622.5,227.5 623.8,231.6 624.8,234.8C625.7,237.9 627.4,243.1 627.9,244.8" fill="none" stroke="rgb(89,89,89)" stroke-width="1.8" stroke-linecap="round" stroke-linejoin="round"/>
<path d="M536.0,248.5C537.0,246.1 540.8,248.3 542.2,249.1C543.7,250.0 544.5,251.1 544.8,253.5C545.0,255.9 545.0,261.8 543.5,263.5C542.0,265.2 537.2,266.0 536.0,263.5C534.8,261.0 535.0,250.9 536.0,248.5Z" fill="rgb(89,89,89)"/>
<path d="M562.2,263.5C558.1,262.7 565.4,259.6 567.2,258.5C569.1,257.4 571.2,256.8 573.5,256.6C575.8,256.4 578.5,256.7 581.0,257.2C583.5,257.8 586.6,258.7 588.5,259.8C590.4,260.8 596.6,262.9 592.2,263.5C587.9,264.1 566.4,264.3 562.2,263.5Z" fill="rgb(89,89,89)"/>
<path d="M283.8,260.8C285.9,259.7 295.2,259.7 298.8,260.8C302.3,261.8 303.5,264.7 305.0,267.0C306.5,269.3 305.8,272.2 307.5,274.5C309.2,276.8 313.3,278.7 315.0,280.8C316.7,282.8 317.7,285.8 317.5,287.0C317.3,288.2 315.2,288.9 313.8,288.2C312.3,287.6 310.6,284.9 308.8,283.2C306.9,281.6 304.6,279.6 302.5,278.2C300.4,276.9 298.3,276.3 296.2,275.1C294.2,274.0 291.8,272.7 290.0,271.4C288.2,270.0 286.7,268.8 285.6,267.0C284.6,265.2 281.6,261.8 283.8,260.8Z" fill="rgb(191,191,191)"/>
<path d="M325.0,269.5C325.6,267.4 327.5,265.5 330.0,264.5C332.5,263.5 336.7,263.0 340.0,263.2C343.3,263.5 346.9,265.5 350.0,265.8C353.1,266.0 355.6,264.3 358.8,264.5C361.9,264.7 367.1,261.2 368.8,267.0C370.4,272.8 369.8,294.9 368.8,299.5C367.7,304.1 364.4,295.8 362.5,294.5C360.6,293.2 359.2,293.2 357.5,292.0C355.8,290.8 354.2,288.0 352.5,287.0C350.8,286.0 349.2,285.1 347.5,285.8C345.8,286.4 344.2,289.9 342.5,290.8C340.8,291.6 339.2,290.1 337.5,290.8C335.8,291.4 334.0,294.3 332.5,294.5C331.0,294.7 329.2,293.7 328.8,292.0C328.3,290.3 330.4,287.0 330.0,284.5C329.6,282.0 327.1,279.5 326.2,277.0C325.4,274.5 324.4,271.6 325.0,269.5Z" fill="rgb(191,191,191)"/>
<path d="M356.9,302.0C357.2,299.1 357.9,294.9 358.8,294.5C359.6,294.1 361.2,297.0 361.9,299.5C362.5,302.0 362.8,306.6 362.5,309.5C362.2,312.4 360.9,316.6 360.0,317.0C359.1,317.4 357.4,314.5 356.9,312.0C356.4,309.5 356.6,304.9 356.9,302.0Z" fill="rgb(191,191,191)"/>
<path d="M303.1,320.8C303.1,318.7 304.1,314.5 305.0,312.0C305.9,309.5 307.5,307.0 308.8,305.8C310.0,304.5 311.5,303.7 312.5,304.5C313.5,305.3 314.8,308.5 315.0,310.8C315.2,313.0 314.6,316.2 313.8,318.2C312.9,320.3 311.5,322.2 310.0,323.2C308.5,324.3 306.1,324.9 305.0,324.5C303.9,324.1 303.1,322.8 303.1,320.8Z" fill="rgb(191,191,191)"/>
<path d="M288.8,315.8C289.3,313.9 291.2,311.8 292.5,312.0C293.8,312.2 295.7,315.1 296.2,317.0C296.8,318.9 296.8,322.2 295.6,323.2C294.5,324.3 290.5,324.5 289.4,323.2C288.2,322.0 288.2,317.6 288.8,315.8Z" fill="rgb(191,191,191)"/>
<path d="M315.6,304.5C316.8,306.4 320.6,312.6 322.5,315.8C324.4,318.9 326.1,322.0 326.9,323.2" fill="none" stroke="rgb(191,191,191)" stroke-width="2.5" stroke-linecap="round" stroke-linejoin="round"/>
<path d="M335.0,312.0 L340.0,322.0" fill="none" stroke="rgb(191,191,191)" stroke-width="2.5" stroke-linecap="round" stroke-linejoin="round"/>
<ellipse cx="258.5" cy="282.6" rx="1.9" ry="6.2" transform="rotate(0 258.5 282.6)" fill="rgb(191,191,191)"/>
<path d="M269.4,273.2C270.3,271.9 272.6,271.2 275.0,271.4C277.4,271.6 280.8,273.6 283.8,274.5C286.7,275.4 289.6,276.0 292.5,277.0C295.4,278.0 298.8,279.3 301.2,280.8C303.8,282.2 305.6,284.0 307.5,285.8C309.4,287.5 312.1,289.5 312.5,291.4C312.9,293.2 311.2,295.9 310.0,297.0C308.8,298.1 306.9,298.1 305.0,298.2C303.1,298.4 301.0,297.4 298.8,297.6C296.5,297.8 293.5,299.4 291.2,299.5C289.0,299.6 287.1,298.0 285.0,298.2C282.9,298.5 280.6,301.2 278.8,300.8C276.9,300.3 275.0,298.0 273.8,295.8C272.5,293.5 272.0,289.7 271.2,287.0C270.5,284.3 269.7,281.8 269.4,279.5C269.1,277.2 268.4,274.6 269.4,273.2Z" fill="rgb(89,89,89)"/>
<path d="M255.0,304.5C256.2,300.8 260.5,305.3 262.5,307.0C264.5,308.7 266.0,312.0 266.9,314.5C267.7,317.0 267.6,319.5 267.5,322.0C267.4,324.5 268.3,328.2 266.2,329.5C264.2,330.8 256.9,333.7 255.0,329.5C253.1,325.3 253.8,308.2 255.0,304.5Z" fill="rgb(89,89,89)"/>
<path d="M255.0,260.8C256.5,259.7 262.5,259.9 263.8,260.8C265.0,261.6 263.3,264.6 262.5,265.8C261.7,266.9 260.0,267.4 258.8,267.6C257.5,267.8 255.6,268.1 255.0,267.0C254.4,265.9 253.5,261.8 255.0,260.8Z" fill="rgb(89,89,89)"/>
<path d="M353.0,264.5C354.2,260.6 358.6,264.7 360.5,265.8C362.4,266.8 362.8,270.4 364.2,270.8C365.7,271.1 367.4,268.1 369.2,267.6C371.1,267.1 374.0,266.7 375.5,267.6C377.0,268.6 378.0,271.3 378.0,273.2C378.0,275.2 376.8,277.7 375.5,279.5C374.2,281.3 372.2,282.6 370.5,283.9C368.8,285.1 367.2,286.3 365.5,287.0C363.8,287.7 362.6,287.9 360.5,288.2C358.4,288.6 354.2,292.8 353.0,288.9C351.8,284.9 351.8,268.4 353.0,264.5Z" fill="rgb(191,191,191)"/>
<path d="M381.1,277.0C381.0,274.9 381.4,272.4 383.0,270.8C384.6,269.1 388.0,268.1 390.5,267.0C393.0,265.9 395.5,264.1 398.0,263.9C400.5,263.7 403.2,264.6 405.5,265.8C407.8,266.9 410.2,268.9 411.8,270.8C413.3,272.6 414.9,275.3 414.9,277.0C414.9,278.7 413.7,279.9 411.8,280.8C409.8,281.6 405.9,281.6 403.0,282.0C400.1,282.4 396.8,282.4 394.2,283.2C391.8,284.1 389.8,287.0 388.0,287.0C386.2,287.0 384.8,284.9 383.6,283.2C382.5,281.6 381.2,279.1 381.1,277.0Z" fill="rgb(191,191,191)"/>
<path d="M365.5,312.0C366.2,310.3 368.6,308.7 370.5,307.0C372.4,305.3 374.8,302.8 376.8,302.0C378.7,301.2 381.0,301.2 382.4,302.0C383.7,302.8 384.8,304.9 384.9,307.0C385.0,309.1 384.4,312.6 383.0,314.5C381.6,316.4 378.8,317.4 376.8,318.2C374.7,319.1 372.3,319.7 370.5,319.5C368.7,319.3 367.0,318.2 366.1,317.0C365.3,315.8 364.8,313.7 365.5,312.0Z" fill="rgb(191,191,191)"/>
<path d="M354.9,303.2C355.6,301.4 357.6,300.1 358.6,300.8C359.7,301.4 360.8,304.7 361.1,307.0C361.4,309.3 361.2,312.8 360.5,314.5C359.8,316.2 357.8,317.4 356.8,317.0C355.7,316.6 354.6,314.3 354.2,312.0C353.9,309.7 354.1,305.1 354.9,303.2Z" fill="rgb(191,191,191)"/>
<path d="M353.0,320.8C353.8,319.5 356.5,320.5 358.0,322.0C359.5,323.5 362.6,328.2 361.8,329.5C360.9,330.8 354.5,331.0 353.0,329.5C351.5,328.0 352.2,322.0 353.0,320.8Z" fill="rgb(191,191,191)"/>
<path d="M504.8,260.8C494.1,261.8 502.9,265.0 501.0,267.0C499.1,269.0 495.1,271.0 493.5,272.6C491.9,274.3 491.4,275.4 491.6,277.0C491.8,278.6 493.2,280.8 494.8,282.0C496.3,283.2 498.9,283.9 501.0,284.5C503.1,285.1 505.4,285.1 507.2,285.8C509.1,286.4 511.1,287.0 512.2,288.2C513.4,289.5 514.3,291.4 514.1,293.2C513.9,295.1 512.0,297.4 511.0,299.5C510.0,301.6 508.5,303.9 507.9,305.8C507.2,307.6 506.7,309.1 507.2,310.8C507.8,312.4 509.3,314.3 511.0,315.8C512.7,317.2 515.0,318.2 517.2,319.5C519.5,320.8 522.5,321.6 524.8,323.2C527.0,324.9 522.9,328.5 531.0,329.5C539.1,330.5 565.6,330.3 573.5,329.5C581.4,328.7 577.0,326.2 578.5,324.5C580.0,322.8 582.0,321.2 582.2,319.5C582.5,317.8 581.2,316.2 579.8,314.5C578.3,312.8 575.6,311.2 573.5,309.5C571.4,307.8 569.3,306.2 567.2,304.5C565.2,302.8 562.6,301.2 561.0,299.5C559.4,297.8 558.1,296.4 557.9,294.5C557.7,292.6 558.6,290.3 559.8,288.2C560.9,286.2 563.9,286.6 564.8,282.0C565.6,277.4 574.8,264.3 564.8,260.8C554.8,257.2 515.4,259.7 504.8,260.8Z" fill="rgb(89,89,89)"/>
<path d="M536.0,260.8C545.8,249.3 584.3,259.9 594.8,260.8C605.2,261.6 597.0,264.3 598.5,265.8C600.0,267.2 602.5,267.4 603.5,269.5C604.5,271.6 604.3,275.3 604.8,278.2C605.2,281.2 605.9,283.9 606.0,287.0C606.1,290.1 605.8,294.1 605.4,297.0C605.0,299.9 603.8,301.6 603.5,304.5C603.2,307.4 603.9,311.6 603.5,314.5C603.1,317.4 601.8,319.5 601.0,322.0C600.2,324.5 600.2,328.2 598.5,329.5C596.8,330.8 592.5,330.8 591.0,329.5C589.5,328.2 589.8,324.9 589.8,322.0C589.8,319.1 590.6,315.1 591.0,312.0C591.4,308.9 592.2,306.2 592.2,303.2C592.2,300.3 592.0,296.8 591.0,294.5C590.0,292.2 588.1,291.4 586.0,289.5C583.9,287.6 581.0,284.9 578.5,283.2C576.0,281.6 573.3,279.7 571.0,279.5C568.7,279.3 566.6,280.5 564.8,282.0C562.9,283.5 560.9,286.2 559.8,288.2C558.6,290.3 557.7,292.6 557.9,294.5C558.1,296.4 559.4,297.8 561.0,299.5C562.6,301.2 565.2,302.8 567.2,304.5C569.3,306.2 571.4,307.8 573.5,309.5C575.6,311.2 578.3,312.8 579.8,314.5C581.2,316.2 582.5,317.8 582.2,319.5C582.0,321.2 580.0,322.8 578.5,324.5C577.0,326.2 580.6,328.7 573.5,329.5C566.4,330.3 542.2,341.0 536.0,329.5C529.8,318.0 526.2,272.2 536.0,260.8Z" fill="rgb(89,89,89)"/>
<path d="M255.0,339.2C256.0,337.0 259.0,339.5 261.2,340.5C263.5,341.5 267.3,343.8 268.8,345.5C270.2,347.2 270.6,349.0 270.0,350.5C269.4,352.0 266.9,353.5 265.0,354.2C263.1,355.0 260.4,354.9 258.8,354.9C257.1,354.9 255.6,356.9 255.0,354.2C254.4,351.6 254.0,341.5 255.0,339.2Z" fill="rgb(191,191,191)"/>
<path d="M268.1,369.2C268.2,367.4 269.5,363.4 270.6,360.5C271.8,357.6 273.4,354.5 275.0,351.8C276.6,349.0 278.1,346.3 280.0,344.2C281.9,342.2 284.0,340.5 286.2,339.2C288.5,338.0 291.9,336.5 293.8,336.8C295.6,337.0 297.0,338.4 297.5,340.5C298.0,342.6 297.7,347.2 296.9,349.2C296.0,351.3 294.3,352.2 292.5,353.0C290.7,353.8 288.1,353.2 286.2,354.2C284.4,355.3 282.9,357.6 281.2,359.2C279.6,360.9 277.7,362.6 276.2,364.2C274.8,365.9 273.5,368.0 272.5,369.2C271.5,370.5 270.7,371.8 270.0,371.8C269.3,371.8 268.0,371.1 268.1,369.2Z" fill="rgb(89,89,89)"/>
<path d="M255.0,363.0C255.8,360.6 258.8,361.8 260.0,362.4C261.2,363.0 262.2,364.8 262.5,366.8C262.8,368.7 262.5,372.5 261.9,374.2C261.2,376.0 259.9,377.0 258.8,377.4C257.6,377.8 255.6,379.1 255.0,376.8C254.4,374.4 254.2,365.4 255.0,363.0Z" fill="rgb(89,89,89)"/>
<path d="M255.0,326.8C257.7,325.4 269.0,325.7 271.2,326.8C273.5,327.8 270.2,331.5 268.8,333.0C267.3,334.5 264.8,335.2 262.5,335.5C260.2,335.8 256.2,336.3 255.0,334.9C253.8,333.4 252.3,328.1 255.0,326.8Z" fill="rgb(89,89,89)"/>
<path d="M316.2,353.0C317.1,350.5 318.5,346.5 320.0,344.2C321.5,342.0 322.9,340.5 325.0,339.2C327.1,338.0 330.0,337.0 332.5,336.8C335.0,336.5 337.9,337.2 340.0,338.0C342.1,338.8 343.3,340.1 345.0,341.8C346.7,343.4 348.3,347.4 350.0,348.0C351.7,348.6 353.1,346.8 355.0,345.5C356.9,344.2 359.4,342.2 361.2,340.5C363.1,338.8 365.0,336.3 366.2,335.5C367.5,334.7 368.3,329.2 368.8,335.5C369.2,341.8 369.4,367.2 368.8,373.0C368.1,378.8 366.2,371.8 365.0,370.5C363.8,369.2 362.5,366.1 361.2,365.5C360.0,364.9 359.0,365.5 357.5,366.8C356.0,368.0 354.2,371.3 352.5,373.0C350.8,374.7 349.2,377.0 347.5,376.8C345.8,376.5 344.0,371.5 342.5,371.8C341.0,372.0 339.8,376.3 338.8,378.0C337.7,379.7 336.9,382.2 336.2,381.8C335.6,381.3 335.2,378.2 335.0,375.5C334.8,372.8 335.4,368.2 335.0,365.5C334.6,362.8 333.5,361.3 332.5,359.2C331.5,357.2 330.0,354.2 328.8,353.0C327.5,351.8 326.0,350.7 325.0,351.8C324.0,352.8 323.8,357.4 322.5,359.2C321.2,361.1 318.8,363.0 317.5,363.0C316.2,363.0 315.2,360.9 315.0,359.2C314.8,357.6 315.4,355.5 316.2,353.0Z" fill="rgb(89,89,89)"/>
<path d="M315.0,365.5C316.7,365.7 321.5,366.8 325.0,366.8C328.5,366.8 334.4,365.7 336.2,365.5" fill="none" stroke="rgb(89,89,89)" stroke-width="1.8" stroke-linecap="round" stroke-linejoin="round"/>
<path d="M276.2,391.8C270.4,390.9 279.8,387.7 282.5,386.8C285.2,385.8 289.2,386.3 292.5,386.1C295.8,385.9 299.0,385.2 302.5,385.5C306.0,385.8 311.2,387.0 313.8,388.0C316.2,389.0 323.8,391.1 317.5,391.8C311.2,392.4 282.1,392.6 276.2,391.8Z" fill="rgb(89,89,89)"/>
<ellipse cx="322.2" cy="384.9" rx="1.5" ry="1.9" transform="rotate(0 322.2 384.9)" fill="rgb(89,89,89)"/>
<path d="M346.2,391.8C342.9,390.7 347.5,387.0 348.8,385.5C350.0,384.0 352.3,384.2 353.8,383.0C355.2,381.8 356.2,378.4 357.5,378.0C358.8,377.6 360.0,379.7 361.2,380.5C362.5,381.3 363.8,382.6 365.0,383.0C366.2,383.4 368.1,381.5 368.8,383.0C369.4,384.5 372.5,390.3 368.8,391.8C365.0,393.2 349.6,392.8 346.2,391.8Z" fill="rgb(191,191,191)"/>
<path d="M364.9,335.5C365.9,333.0 369.4,332.8 371.8,331.8C374.1,330.7 377.0,329.5 379.2,329.2C381.5,329.0 383.6,329.0 385.5,330.5C387.4,332.0 388.8,336.1 390.5,338.0C392.2,339.9 394.4,339.7 395.5,341.8C396.6,343.8 397.0,347.6 397.4,350.5C397.8,353.4 398.3,357.0 398.0,359.2C397.7,361.5 397.0,363.8 395.5,364.2C394.0,364.7 391.5,362.6 389.2,361.8C387.0,360.9 384.2,359.9 381.8,359.2C379.2,358.6 376.3,358.8 374.2,358.0C372.2,357.2 370.7,356.1 369.2,354.2C367.8,352.4 366.2,349.9 365.5,346.8C364.8,343.6 363.8,338.0 364.9,335.5Z" fill="rgb(89,89,89)"/>
<ellipse cx="369.2" cy="380.5" rx="1.2" ry="5.0" transform="rotate(0 369.2 380.5)" fill="rgb(89,89,89)"/>
<path d="M541.0,326.8C543.7,326.2 560.8,325.7 564.8,326.8C568.7,327.8 566.0,332.1 564.8,333.0C563.5,333.9 560.0,332.9 557.2,332.4C554.5,331.9 551.2,330.8 548.5,329.9C545.8,328.9 538.3,327.3 541.0,326.8Z" fill="rgb(89,89,89)"/>
<path d="M527.9,373.0C528.1,372.1 530.5,371.2 532.2,371.1C534.0,371.0 536.4,371.6 538.5,372.4C540.6,373.1 543.3,374.4 544.8,375.5C546.2,376.6 547.5,378.3 547.2,379.2C547.0,380.2 545.2,381.0 543.5,381.1C541.8,381.2 539.3,380.6 537.2,379.9C535.2,379.1 532.6,377.9 531.0,376.8C529.4,375.6 527.7,373.9 527.9,373.0Z" fill="rgb(191,191,191)"/>
<ellipse cx="520.4" cy="364.9" rx="1.9" ry="2.8" transform="rotate(-30.0 520.4 364.9)" fill="rgb(191,191,191)"/>
<path d="M548.5,326.8C551.8,325.8 573.1,326.1 577.2,326.8C581.4,327.4 575.4,329.5 573.5,330.5C571.6,331.5 568.7,332.7 566.0,333.0C563.3,333.3 560.2,333.4 557.2,332.4C554.3,331.3 545.2,327.7 548.5,326.8Z" fill="rgb(89,89,89)"/>
<path d="M536.0,372.4C536.8,371.0 539.3,372.3 541.0,373.0C542.7,373.7 545.1,375.5 546.0,376.8C546.9,378.0 547.2,379.7 546.6,380.5C546.0,381.3 544.0,381.6 542.2,381.8C540.5,381.9 537.0,382.7 536.0,381.1C535.0,379.6 535.2,373.7 536.0,372.4Z" fill="rgb(191,191,191)"/>
<path d="M585.4,343.0C585.4,340.3 587.1,337.5 588.5,335.5C589.9,333.5 591.6,331.8 593.5,331.1C595.4,330.5 598.1,330.6 599.8,331.8C601.4,332.9 602.5,335.5 603.5,338.0C604.5,340.5 605.5,343.6 606.0,346.8C606.5,349.9 606.8,354.0 606.6,356.8C606.4,359.5 605.9,362.2 604.8,363.0C603.6,363.8 601.6,362.8 599.8,361.8C597.9,360.7 595.4,358.4 593.5,356.8C591.6,355.1 589.9,354.0 588.5,351.8C587.1,349.5 585.4,345.7 585.4,343.0Z" fill="rgb(191,191,191)"/>
<path d="M581.6,365.5C581.9,363.9 583.8,362.7 585.4,362.4C586.9,362.1 589.2,362.7 591.0,363.6C592.8,364.6 594.3,366.2 596.0,368.0C597.7,369.8 599.3,372.6 601.0,374.2C602.7,375.9 604.3,377.0 606.0,378.0C607.7,379.0 609.3,380.9 611.0,380.5C612.7,380.1 614.3,376.5 616.0,375.5C617.7,374.5 619.3,374.0 621.0,374.2C622.7,374.5 624.3,375.9 626.0,376.8C627.7,377.6 629.3,378.4 631.0,379.2C632.7,380.1 634.1,381.5 636.0,381.8C637.9,382.0 640.4,381.1 642.2,380.5C644.1,379.9 646.4,376.1 647.2,378.0C648.1,379.9 656.2,389.5 647.2,391.8C638.3,394.0 602.7,393.0 593.5,391.8C584.3,390.5 593.1,386.5 592.2,384.2C591.4,382.0 590.0,380.1 588.5,378.0C587.0,375.9 584.6,373.8 583.5,371.8C582.4,369.7 581.3,367.1 581.6,365.5Z" fill="rgb(89,89,89)"/>
<path d="M583.6,194.0C583.9,192.5 585.7,191.2 587.4,191.0C589.0,190.8 591.5,191.5 593.5,192.9C595.5,194.2 600.9,197.8 599.6,199.0C598.4,200.2 588.7,200.8 586.0,200.0C583.3,199.2 583.4,195.5 583.6,194.0Z" fill="rgb(191,191,191)"/>
<path d="M289.4,178.1C290.2,176.9 292.2,175.5 293.8,176.2C295.3,177.0 297.1,180.4 298.8,182.5C300.4,184.6 302.5,186.2 303.8,188.8C305.0,191.2 305.6,194.8 306.2,197.5C306.9,200.2 308.1,203.5 307.5,205.0C306.9,206.5 304.0,207.1 302.5,206.2C301.0,205.4 300.4,202.7 298.8,200.0C297.1,197.3 294.2,192.7 292.5,190.0C290.8,187.3 289.3,185.7 288.8,183.8C288.2,181.8 288.5,179.4 289.4,178.1Z" fill="rgb(115,115,115)"/>
<path d="M366.8,194.8C368.4,193.7 376.3,193.5 378.0,194.8C379.7,196.0 377.8,200.6 376.8,202.2C375.7,203.9 373.2,205.0 371.8,204.8C370.3,204.5 368.8,202.7 368.0,201.0C367.2,199.3 365.1,195.8 366.8,194.8Z" fill="rgb(115,115,115)"/>
<ellipse cx="413.9" cy="216.6" rx="1.2" ry="3.1" transform="rotate(-30.0 413.9 216.6)" fill="rgb(140,140,140)"/>
<path d="M617.9,378.0C618.0,379.2 618.6,383.2 618.5,385.5C618.4,387.8 617.5,390.7 617.2,391.8" fill="none" stroke="rgb(115,115,115)" stroke-width="1.5" stroke-linecap="round" stroke-linejoin="round"/>
<path d="M606.0,380.5 L606.6,388.0" fill="none" stroke="rgb(115,115,115)" stroke-width="1.2" stroke-linecap="round" stroke-linejoin="round"/>
<path d="M371.2,200.0C370.6,198.5 369.6,195.2 370.0,192.5C370.4,189.8 372.3,186.0 373.8,183.8C375.2,181.5 377.1,179.2 378.8,178.8C380.4,178.3 382.5,179.8 383.8,181.2C385.0,182.7 386.5,185.6 386.2,187.5C386.0,189.4 384.0,190.8 382.5,192.5C381.0,194.2 379.0,196.0 377.5,197.5C376.0,199.0 374.8,200.8 373.8,201.2C372.7,201.7 371.9,201.5 371.2,200.0Z" fill="rgb(140,140,140)"/>
<path d="M356.5,178.1 L355.2,186.2" fill="none" stroke="rgb(140,140,140)" stroke-width="1.5" stroke-linecap="round" stroke-linejoin="round"/>
<path d="M362.8,186.2 L362.0,191.9" fill="none" stroke="rgb(140,140,140)" stroke-width="1.2" stroke-linecap="round" stroke-linejoin="round"/>
<path d="M542.9,256.6C542.5,254.9 543.5,251.9 544.8,251.1C546.0,250.3 548.3,251.7 550.3,252.0C552.3,252.3 554.9,253.3 556.7,252.9C558.5,252.6 559.8,250.3 561.3,249.7C562.8,249.2 564.6,249.2 565.9,249.7C567.1,250.3 567.7,251.8 568.6,252.9C569.5,254.1 571.5,255.4 571.4,256.6C571.2,257.8 568.9,259.1 567.7,260.3C566.5,261.5 565.4,263.0 564.0,263.9C562.7,264.9 561.0,265.9 559.4,265.8C557.9,265.6 556.9,263.8 554.9,263.0C552.9,262.3 549.5,262.3 547.5,261.2C545.5,260.1 543.4,258.3 542.9,256.6Z" fill="rgb(115,115,115)"/>
<ellipse cx="371.8" cy="196.6" rx="2.5" ry="2.5" transform="rotate(0 371.8 196.6)" fill="rgb(140,140,140)"/>
<path d="M362.2,172.5 L363.8,180.0" fill="none" stroke="rgb(89,89,89)" stroke-width="1.0" stroke-linecap="round" stroke-linejoin="round"/>
<path d="M370.6,178.8 L365.6,191.2" fill="none" stroke="rgb(89,89,89)" stroke-width="1.0" stroke-linecap="round" stroke-linejoin="round"/>
<ellipse cx="337.1" cy="160.4" rx="4.1" ry="3.8" transform="rotate(0 337.1 160.4)" fill="rgb(217,217,217)"/>
<ellipse cx="260.6" cy="167.1" rx="2.5" ry="5.2" transform="rotate(10.0 260.6 167.1)" fill="rgb(64,64,64)"/>
<path d="M274.4,186.2C274.8,184.6 277.1,181.4 278.8,180.0C280.4,178.6 283.0,177.7 284.4,178.1C285.7,178.5 286.8,180.7 286.9,182.5C287.0,184.3 286.0,187.2 285.0,188.8C284.0,190.3 282.1,191.7 280.6,191.9C279.2,192.1 277.3,190.9 276.2,190.0C275.2,189.1 274.0,187.9 274.4,186.2Z" fill="rgb(64,64,64)"/>
<path d="M532.2,151.2C533.1,150.2 535.4,148.4 537.2,148.8C539.1,149.1 541.4,151.8 543.5,153.1C545.6,154.5 547.5,156.0 549.8,156.9C552.0,157.7 554.8,158.3 557.2,158.1C559.8,157.9 563.5,153.9 564.8,155.6C566.0,157.4 565.8,167.1 564.8,168.8C563.7,170.4 561.0,165.9 558.5,165.6C556.0,165.3 552.7,167.1 549.8,166.9C546.8,166.7 543.5,165.5 541.0,164.4C538.5,163.2 536.2,161.6 534.8,160.0C533.2,158.4 532.4,156.5 532.0,155.0C531.6,153.5 531.4,152.3 532.2,151.2Z" fill="rgb(64,64,64)"/>
<path d="M519.1,131.2C520.0,130.4 523.8,130.4 524.8,131.2C525.7,132.1 525.2,135.0 524.8,136.2C524.3,137.5 523.1,138.8 522.2,138.8C521.4,138.8 520.3,137.5 519.8,136.2C519.2,135.0 518.3,132.1 519.1,131.2Z" fill="rgb(64,64,64)"/>
<path d="M536.0,149.4C537.0,148.1 540.2,152.6 542.2,153.8C544.3,154.9 546.2,155.5 548.5,156.2C550.8,157.0 553.9,158.3 556.0,158.1C558.1,157.9 559.1,155.3 561.0,155.0C562.9,154.7 565.4,155.2 567.2,156.2C569.1,157.3 571.2,159.4 572.2,161.2C573.3,163.1 573.7,165.7 573.5,167.5C573.3,169.3 572.2,171.2 571.0,171.9C569.8,172.5 567.9,172.2 566.0,171.2C564.1,170.3 561.6,167.2 559.8,166.2C557.9,165.3 556.6,165.6 554.8,165.6C552.9,165.6 550.8,166.7 548.5,166.2C546.2,165.8 543.1,164.0 541.0,163.1C538.9,162.3 536.8,163.5 536.0,161.2C535.2,159.0 535.0,150.6 536.0,149.4Z" fill="rgb(64,64,64)"/>
<ellipse cx="587.5" cy="158.1" rx="2.5" ry="6.5" transform="rotate(0 587.5 158.1)" fill="rgb(64,64,64)"/>
<ellipse cx="601.6" cy="153.8" rx="2.8" ry="7.5" transform="rotate(-5.0 601.6 153.8)" fill="rgb(64,64,64)"/>
<ellipse cx="627.2" cy="158.1" rx="6.0" ry="6.0" transform="rotate(0 627.2 158.1)" fill="rgb(64,64,64)"/>
<path d="M604.1,130.6C604.8,129.5 607.6,129.3 608.5,130.6C609.4,132.0 609.1,135.7 609.8,138.8C610.4,141.8 611.9,145.4 612.2,148.8C612.6,152.1 612.0,157.7 611.6,158.8C611.2,159.8 610.5,157.3 609.8,155.0C609.0,152.7 608.1,147.9 607.2,145.0C606.4,142.1 605.3,139.9 604.8,137.5C604.2,135.1 603.5,131.8 604.1,130.6Z" fill="rgb(64,64,64)"/>
<path d="M612.9,137.5C613.2,136.7 615.1,138.8 616.0,141.2C616.9,143.8 618.0,149.6 618.5,152.5C619.0,155.4 619.4,158.1 619.1,158.8C618.8,159.4 617.5,158.3 616.6,156.2C615.8,154.2 614.8,149.4 614.1,146.2C613.5,143.1 612.6,138.3 612.9,137.5Z" fill="rgb(64,64,64)"/>
<ellipse cx="597.2" cy="183.1" rx="1.2" ry="3.5" transform="rotate(-15.0 597.2 183.1)" fill="rgb(64,64,64)"/>
<ellipse cx="596.0" cy="133.8" rx="1.2" ry="2.8" transform="rotate(0 596.0 133.8)" fill="rgb(64,64,64)"/>
<path d="M304.4,210.0C304.9,209.1 307.0,211.1 308.8,210.6C310.5,210.1 313.8,208.6 315.0,206.9C316.2,205.1 314.6,201.8 316.2,200.0C317.9,198.2 323.1,197.9 325.0,196.2C326.9,194.6 325.6,191.4 327.5,190.0C329.4,188.6 334.0,189.4 336.2,188.1C338.5,186.9 339.9,182.8 341.2,182.5C342.6,182.2 342.9,185.7 344.4,186.2C345.8,186.8 349.2,184.0 350.0,185.6C350.8,187.3 349.8,193.2 349.4,196.2C349.0,199.3 348.6,201.1 347.5,203.8C346.4,206.4 344.6,210.7 342.5,211.9C340.4,213.0 337.3,210.6 335.0,210.6C332.7,210.6 331.2,210.5 328.8,211.9C326.2,213.2 323.1,217.2 320.0,218.8C316.9,220.3 312.4,221.7 310.0,221.2C307.6,220.8 306.6,218.1 305.6,216.2C304.7,214.4 303.9,210.9 304.4,210.0Z" fill="rgb(64,64,64)"/>
<path d="M351.2,206.2C351.8,203.3 352.9,200.7 353.8,198.8C354.6,196.8 355.5,194.2 356.2,194.4C357.0,194.6 357.3,198.6 358.1,200.0C359.0,201.4 360.1,202.5 361.2,202.5C362.4,202.5 364.2,199.6 365.0,200.0C365.8,200.4 366.5,202.9 366.2,205.0C366.0,207.1 364.8,210.4 363.8,212.5C362.7,214.6 361.1,217.3 360.0,217.5C358.9,217.7 357.9,214.8 356.9,213.8C355.8,212.7 354.8,210.8 353.8,211.2C352.7,211.7 351.0,217.1 350.6,216.2C350.2,215.4 350.7,209.2 351.2,206.2Z" fill="rgb(64,64,64)"/>
<ellipse cx="262.5" cy="258.2" rx="1.2" ry="2.8" transform="rotate(20.0 262.5 258.2)" fill="rgb(64,64,64)"/>
<ellipse cx="266.9" cy="222.9" rx="1.0" ry="1.8" transform="rotate(0 266.9 222.9)" fill="rgb(64,64,64)"/>
<path d="M466.8,227.2C465.7,223.9 462.6,228.2 460.5,229.1C458.4,230.1 456.1,231.3 454.2,232.9C452.4,234.4 450.9,236.9 449.2,238.5C447.6,240.1 445.1,241.0 444.2,242.2C443.4,243.5 443.4,244.8 444.2,246.0C445.1,247.2 447.2,249.0 449.2,249.8C451.3,250.5 453.8,250.5 456.8,250.4C459.7,250.3 465.1,253.0 466.8,249.1C468.4,245.3 467.8,230.6 466.8,227.2Z" fill="rgb(64,64,64)"/>
<ellipse cx="354.2" cy="204.8" rx="3.1" ry="6.2" transform="rotate(0 354.2 204.8)" fill="rgb(64,64,64)"/>
<path d="M358.0,217.2C357.5,215.8 357.0,211.2 357.4,208.5C357.8,205.8 359.2,202.5 360.5,201.0C361.8,199.5 364.0,198.9 364.9,199.8C365.7,200.6 365.8,203.7 365.5,206.0C365.2,208.3 363.8,211.6 363.0,213.5C362.2,215.4 361.3,216.6 360.5,217.2C359.7,217.9 358.5,218.7 358.0,217.2Z" fill="rgb(64,64,64)"/>
<path d="M367.4,212.2C367.9,210.4 370.2,208.4 371.8,207.2C373.3,206.1 375.6,204.8 376.8,205.4C377.9,206.0 378.5,208.8 378.6,211.0C378.7,213.2 378.5,216.6 377.4,218.5C376.2,220.4 373.2,222.2 371.8,222.2C370.3,222.2 369.4,220.2 368.6,218.5C367.9,216.8 366.9,214.1 367.4,212.2Z" fill="rgb(64,64,64)"/>
<ellipse cx="385.9" cy="216.6" rx="1.9" ry="3.1" transform="rotate(0 385.9 216.6)" fill="rgb(64,64,64)"/>
<ellipse cx="395.5" cy="207.2" rx="6.9" ry="6.0" transform="rotate(0 395.5 207.2)" fill="rgb(64,64,64)"/>
<ellipse cx="368.2" cy="242.9" rx="1.5" ry="3.5" transform="rotate(20.0 368.2 242.9)" fill="rgb(217,217,217)"/>
<path d="M537.2,222.9C537.8,221.9 539.5,221.0 541.0,220.4C542.5,219.8 544.5,218.7 546.0,219.1C547.5,219.5 548.1,221.7 549.8,222.9C551.4,224.0 553.5,224.4 556.0,226.0C558.5,227.6 563.3,230.4 564.8,232.2C566.2,234.1 565.8,236.4 564.8,237.2C563.7,238.1 560.6,237.8 558.5,237.2C556.4,236.7 554.3,235.2 552.2,234.1C550.2,233.1 547.9,231.8 546.0,231.0C544.1,230.2 542.4,230.0 541.0,229.1C539.6,228.3 538.5,227.0 537.9,226.0C537.2,225.0 536.7,223.8 537.2,222.9Z" fill="rgb(217,217,217)"/>
<path d="M451.0,233.5C452.0,230.0 454.8,230.9 457.2,229.8C459.8,228.6 462.9,227.4 466.0,226.6C469.1,225.9 472.5,225.4 476.0,225.4C479.5,225.4 484.1,226.0 487.2,226.6C490.4,227.2 493.0,228.0 494.8,229.1C496.5,230.3 497.5,231.9 497.9,233.5C498.3,235.1 498.2,237.0 497.2,238.5C496.3,240.0 494.3,241.2 492.2,242.2C490.2,243.3 487.2,243.9 484.8,244.8C482.2,245.6 479.8,246.4 477.2,247.2C474.8,248.1 472.5,249.3 469.8,249.8C467.0,250.2 463.5,249.9 461.0,249.8C458.5,249.6 456.4,248.9 454.8,249.1C453.1,249.3 451.6,253.6 451.0,251.0C450.4,248.4 450.0,237.0 451.0,233.5Z" fill="rgb(64,64,64)"/>
<path d="M536.6,222.9C537.0,221.5 539.2,220.2 541.0,219.8C542.8,219.3 545.4,219.5 547.2,220.4C549.1,221.2 550.4,223.6 552.2,224.8C554.1,225.9 556.4,226.0 558.5,227.2C560.6,228.5 563.5,230.8 564.8,232.2C566.0,233.7 567.0,235.2 566.0,236.0C565.0,236.8 561.0,237.4 558.5,237.2C556.0,237.1 553.3,236.2 551.0,235.4C548.7,234.5 546.8,233.5 544.8,232.2C542.7,231.0 539.9,229.4 538.5,227.9C537.1,226.3 536.2,224.2 536.6,222.9Z" fill="rgb(217,217,217)"/>
<path d="M582.9,242.2C583.2,240.5 584.6,238.7 586.0,237.9C587.4,237.0 589.1,236.7 591.0,237.2C592.9,237.8 595.0,239.5 597.2,241.0C599.5,242.5 602.2,244.1 604.8,246.0C607.2,247.9 610.4,250.2 612.2,252.2C614.1,254.3 615.4,256.6 616.0,258.5C616.6,260.4 617.7,262.7 616.0,263.5C614.3,264.3 608.5,264.5 606.0,263.5C603.5,262.5 602.9,258.9 601.0,257.2C599.1,255.6 596.8,254.3 594.8,253.5C592.7,252.7 590.3,253.1 588.5,252.2C586.7,251.4 585.1,250.2 584.1,248.5C583.2,246.8 582.6,244.0 582.9,242.2Z" fill="rgb(217,217,217)"/>
<path d="M592.2,202.9C592.6,201.4 594.6,199.8 596.0,200.4C597.4,201.0 599.1,204.2 600.4,206.6C601.6,209.0 603.3,212.8 603.5,214.8C603.7,216.7 602.7,218.4 601.6,218.2C600.5,218.1 598.3,215.6 597.0,214.1C595.7,212.6 594.5,211.0 593.8,209.1C593.0,207.2 591.9,204.3 592.2,202.9Z" fill="rgb(217,217,217)"/>
<path d="M607.9,201.0C608.3,200.2 609.9,200.6 611.0,202.2C612.1,203.9 613.6,207.9 614.8,211.0C615.9,214.1 617.5,218.6 617.9,221.0C618.3,223.4 618.0,225.4 617.2,225.4C616.5,225.4 614.6,223.0 613.5,221.0C612.4,219.0 611.2,215.8 610.4,213.5C609.5,211.2 608.7,209.3 608.2,207.2C607.8,205.2 607.4,201.8 607.9,201.0Z" fill="rgb(217,217,217)"/>
<path d="M589.1,224.1C589.4,223.1 590.9,221.8 592.2,221.6C593.6,221.4 595.4,221.7 597.2,222.9C599.1,224.0 601.7,226.7 603.5,228.5C605.3,230.3 606.9,231.7 607.9,233.5C608.8,235.3 609.4,238.0 609.1,239.1C608.8,240.3 607.6,240.7 606.0,240.4C604.4,240.1 601.7,238.6 599.8,237.2C597.8,235.9 595.7,233.8 594.1,232.2C592.6,230.7 591.2,229.2 590.4,227.9C589.5,226.5 588.8,225.2 589.1,224.1Z" fill="rgb(64,64,64)"/>
<path d="M611.0,228.5C611.2,227.0 612.6,226.7 613.5,227.2C614.4,227.8 615.8,230.0 616.6,231.6C617.5,233.3 618.2,235.5 618.5,237.2C618.8,239.0 619.1,241.6 618.5,242.2C617.9,242.9 615.8,242.0 614.8,241.0C613.7,240.0 612.9,238.1 612.2,236.0C611.6,233.9 610.8,230.0 611.0,228.5Z" fill="rgb(64,64,64)"/>
<path d="M567.2,263.5C564.3,262.9 570.2,260.5 572.2,259.8C574.3,259.0 577.5,258.9 579.8,259.1C582.0,259.3 584.3,260.3 586.0,261.0C587.7,261.7 592.9,263.1 589.8,263.5C586.6,263.9 570.2,264.1 567.2,263.5Z" fill="rgb(64,64,64)"/>
<ellipse cx="624.1" cy="260.4" rx="1.2" ry="3.1" transform="rotate(-20.0 624.1 260.4)" fill="rgb(64,64,64)"/>
<path d="M286.9,260.8C288.3,260.0 293.9,259.7 296.2,260.8C298.6,261.8 300.5,264.9 301.2,267.0C302.0,269.1 301.5,272.4 300.6,273.2C299.8,274.1 297.8,272.8 296.2,272.0C294.7,271.2 292.7,269.4 291.2,268.2C289.8,267.1 288.2,266.4 287.5,265.1C286.8,263.9 285.4,261.5 286.9,260.8Z" fill="rgb(217,217,217)"/>
<ellipse cx="331.9" cy="268.2" rx="4.4" ry="3.2" transform="rotate(-30.0 331.9 268.2)" fill="rgb(217,217,217)"/>
<ellipse cx="355.0" cy="275.1" rx="3.2" ry="6.9" transform="rotate(15.0 355.0 275.1)" fill="rgb(217,217,217)"/>
<ellipse cx="368.1" cy="277.0" rx="1.8" ry="4.0" transform="rotate(0 368.1 277.0)" fill="rgb(217,217,217)"/>
<ellipse cx="309.1" cy="315.1" rx="1.4" ry="4.4" transform="rotate(10.0 309.1 315.1)" fill="rgb(217,217,217)"/>
<path d="M284.4,277.6C284.8,276.8 286.1,277.4 287.5,278.2C288.9,279.1 290.9,281.9 292.5,282.6C294.1,283.4 295.8,281.9 296.9,282.6C297.9,283.4 298.5,285.0 298.8,287.0C299.0,289.0 298.8,292.9 298.1,294.5C297.5,296.1 296.6,296.2 295.0,296.4C293.4,296.6 290.2,296.8 288.8,295.8C287.3,294.7 286.9,292.2 286.2,290.1C285.6,288.0 285.1,285.3 284.8,283.2C284.4,281.2 283.9,278.5 284.4,277.6Z" fill="rgb(64,64,64)"/>
<path d="M305.0,290.8C305.4,290.3 307.1,291.1 308.1,291.4C309.2,291.7 310.9,291.7 311.2,292.6C311.6,293.6 310.7,296.3 310.0,297.0C309.3,297.7 307.6,297.5 306.9,297.0C306.1,296.5 305.9,294.9 305.6,293.9C305.3,292.8 304.6,291.2 305.0,290.8Z" fill="rgb(64,64,64)"/>
<path d="M255.0,308.2C255.9,305.3 259.2,310.3 260.6,312.0C262.1,313.7 263.1,315.3 263.8,318.2C264.4,321.2 265.8,327.6 264.4,329.5C262.9,331.4 256.6,333.0 255.0,329.5C253.4,326.0 254.1,311.2 255.0,308.2Z" fill="rgb(64,64,64)"/>
<ellipse cx="354.9" cy="275.8" rx="3.5" ry="6.2" transform="rotate(0 354.9 275.8)" fill="rgb(217,217,217)"/>
<path d="M366.1,273.2C366.9,271.5 369.1,269.5 370.5,268.9C371.9,268.2 373.7,268.4 374.2,269.5C374.8,270.6 374.5,273.9 373.6,275.8C372.8,277.6 370.5,280.1 369.2,280.8C368.0,281.4 366.6,280.8 366.1,279.5C365.6,278.2 365.4,275.0 366.1,273.2Z" fill="rgb(217,217,217)"/>
<path d="M383.0,275.8C383.2,274.1 384.9,272.1 386.8,270.8C388.6,269.4 392.1,268.6 394.2,267.6C396.4,266.7 398.0,265.0 399.9,265.1C401.8,265.2 404.0,266.9 405.5,268.2C407.0,269.6 408.4,271.7 408.6,273.2C408.8,274.8 408.3,276.6 406.8,277.6C405.2,278.7 401.8,278.9 399.2,279.5C396.8,280.1 394.0,281.2 391.8,281.4C389.5,281.6 387.0,281.7 385.5,280.8C384.0,279.8 382.8,277.4 383.0,275.8Z" fill="rgb(217,217,217)"/>
<path d="M515.4,277.0C515.7,275.5 516.7,273.2 518.5,272.0C520.3,270.8 523.1,270.0 526.0,269.5C528.9,269.0 533.1,269.5 536.0,268.9C538.9,268.2 541.0,266.1 543.5,265.8C546.0,265.4 548.7,266.6 551.0,267.0C553.3,267.4 555.0,268.6 557.2,268.2C559.5,267.9 563.5,263.5 564.8,265.1C566.0,266.8 565.6,275.2 564.8,278.2C563.9,281.3 561.6,281.6 559.8,283.2C557.9,284.9 555.6,287.0 553.5,288.2C551.4,289.5 549.3,289.9 547.2,290.8C545.2,291.6 542.5,292.2 541.0,293.2C539.5,294.3 539.1,296.8 538.5,297.0C537.9,297.2 536.8,295.6 537.2,294.5C537.7,293.4 541.2,290.8 541.0,290.1C540.8,289.5 537.7,290.0 536.0,290.8C534.3,291.5 532.2,294.3 531.0,294.5C529.8,294.7 529.3,293.2 528.5,292.0C527.7,290.8 527.2,288.5 526.0,287.0C524.8,285.5 522.6,284.3 521.0,283.2C519.4,282.2 517.6,281.8 516.6,280.8C515.7,279.7 515.1,278.5 515.4,277.0Z" fill="rgb(64,64,64)"/>
<path d="M536.6,310.8C536.6,308.9 537.4,306.0 538.5,304.5C539.6,303.0 541.6,302.5 543.5,302.0C545.4,301.5 547.9,301.0 549.8,301.4C551.6,301.8 553.1,303.4 554.8,304.5C556.4,305.6 558.1,307.3 559.8,308.2C561.4,309.2 563.9,307.2 564.8,310.1C565.6,313.0 565.4,323.6 564.8,325.8C564.1,327.9 562.5,324.3 561.0,323.2C559.5,322.2 557.9,320.0 556.0,319.5C554.1,319.0 551.8,320.1 549.8,320.1C547.7,320.1 545.4,320.2 543.5,319.5C541.6,318.8 539.6,317.2 538.5,315.8C537.4,314.3 536.6,312.6 536.6,310.8Z" fill="rgb(64,64,64)"/>
<path d="M536.0,269.5C537.0,265.5 540.2,267.6 542.2,267.0C544.3,266.4 546.4,265.6 548.5,265.8C550.6,265.9 552.7,267.4 554.8,267.6C556.8,267.8 558.9,267.7 561.0,267.0C563.1,266.3 565.2,264.3 567.2,263.2C569.3,262.2 568.9,261.2 573.5,260.8C578.1,260.3 590.4,259.7 594.8,260.8C599.1,261.8 598.2,265.1 599.8,267.0C601.3,268.9 603.2,269.7 604.1,272.0C605.1,274.3 605.5,278.2 605.4,280.8C605.3,283.2 604.6,286.1 603.5,287.0C602.4,287.9 600.6,287.0 598.5,286.4C596.4,285.8 593.5,284.4 591.0,283.2C588.5,282.1 585.8,280.8 583.5,279.5C581.2,278.2 579.3,276.6 577.2,275.8C575.2,274.9 573.1,274.5 571.0,274.5C568.9,274.5 566.6,274.7 564.8,275.8C562.9,276.8 561.4,279.1 559.8,280.8C558.1,282.4 556.6,284.5 554.8,285.8C552.9,287.0 550.4,287.5 548.5,288.2C546.6,289.0 545.0,289.1 543.5,290.1C542.0,291.2 540.7,293.4 539.8,294.5C538.8,295.6 538.3,297.4 537.9,297.0C537.5,296.6 537.6,293.0 537.2,292.0C536.9,291.0 536.2,294.5 536.0,290.8C535.8,287.0 535.0,273.5 536.0,269.5Z" fill="rgb(64,64,64)"/>
<path d="M537.2,312.0C537.4,310.1 538.1,307.3 539.1,305.8C540.2,304.2 541.7,303.4 543.5,302.6C545.3,301.9 547.9,301.1 549.8,301.4C551.6,301.7 552.9,303.1 554.8,304.5C556.6,305.9 558.9,308.2 561.0,309.5C563.1,310.8 565.4,311.0 567.2,312.0C569.1,313.0 571.2,314.3 572.2,315.8C573.3,317.2 573.7,319.1 573.5,320.8C573.3,322.4 572.5,324.7 571.0,325.8C569.5,326.8 567.0,327.2 564.8,327.0C562.5,326.8 559.8,325.5 557.2,324.5C554.8,323.5 552.2,321.5 549.8,320.8C547.2,320.0 544.1,320.8 542.2,320.1C540.4,319.5 539.3,318.4 538.5,317.0C537.7,315.6 537.1,313.9 537.2,312.0Z" fill="rgb(64,64,64)"/>
<ellipse cx="597.9" cy="310.1" rx="3.5" ry="11.9" transform="rotate(0 597.9 310.1)" fill="rgb(64,64,64)"/>
<path d="M602.9,268.2C603.4,266.4 604.4,264.5 606.0,264.5C607.6,264.5 610.4,266.6 612.2,268.2C614.1,269.9 615.6,273.1 617.2,274.5C618.9,275.9 620.5,275.0 622.2,276.4C624.0,277.7 626.1,280.5 627.9,282.6C629.6,284.7 631.7,286.3 632.9,288.9C634.0,291.5 634.9,295.3 634.8,298.2C634.6,301.2 633.7,305.5 632.2,306.4C630.8,307.2 627.7,304.3 626.0,303.2C624.3,302.2 623.5,301.2 622.2,300.1C621.0,299.1 619.8,296.7 618.5,297.0C617.2,297.3 616.1,301.5 614.8,302.0C613.4,302.5 611.8,301.6 610.4,300.1C608.9,298.7 607.0,295.9 606.0,293.2C605.0,290.6 604.6,287.4 604.1,284.5C603.6,281.6 603.1,278.5 602.9,275.8C602.7,273.0 602.4,270.1 602.9,268.2Z" fill="rgb(64,64,64)"/>
<ellipse cx="259.4" cy="348.0" rx="3.8" ry="5.6" transform="rotate(0 259.4 348.0)" fill="rgb(217,217,217)"/>
<path d="M276.2,357.4C276.2,356.1 276.5,353.7 277.5,351.8C278.5,349.8 280.6,347.3 282.5,345.5C284.4,343.7 286.9,342.1 288.8,341.1C290.6,340.2 292.7,339.4 293.8,339.9C294.8,340.4 295.0,342.7 295.0,344.2C295.0,345.8 294.8,348.1 293.8,349.2C292.7,350.4 290.4,350.6 288.8,351.1C287.1,351.6 285.2,351.5 283.8,352.4C282.3,353.2 281.0,355.0 280.0,356.1C279.0,357.3 278.1,359.0 277.5,359.2C276.9,359.5 276.2,358.6 276.2,357.4Z" fill="rgb(64,64,64)"/>
<ellipse cx="259.4" cy="369.9" rx="1.5" ry="4.4" transform="rotate(0 259.4 369.9)" fill="rgb(64,64,64)"/>
<path d="M255.0,326.8C256.9,325.8 264.7,326.0 266.2,326.8C267.8,327.5 265.4,330.1 264.4,331.1C263.3,332.2 261.6,332.8 260.0,333.0C258.4,333.2 255.8,333.4 255.0,332.4C254.2,331.3 253.1,327.7 255.0,326.8Z" fill="rgb(64,64,64)"/>
<path d="M335.0,341.8C335.5,340.7 337.3,339.6 338.8,339.2C340.2,338.9 342.3,338.8 343.8,339.9C345.2,340.9 346.2,343.9 347.5,345.5C348.8,347.1 349.8,349.0 351.2,349.2C352.7,349.5 354.6,347.8 356.2,346.8C357.9,345.7 360.0,343.8 361.2,343.0C362.5,342.2 362.9,340.9 363.8,341.8C364.6,342.6 366.0,345.5 366.2,348.0C366.5,350.5 365.6,353.8 365.0,356.8C364.4,359.7 363.5,364.2 362.5,365.5C361.5,366.8 360.2,363.6 358.8,364.2C357.3,364.9 355.4,367.6 353.8,369.2C352.1,370.9 350.1,374.0 348.8,374.2C347.4,374.5 346.5,372.6 345.6,370.5C344.8,368.4 344.5,364.2 343.8,361.8C343.0,359.2 342.3,357.4 341.2,355.5C340.2,353.6 338.4,352.2 337.5,350.5C336.6,348.8 336.0,347.0 335.6,345.5C335.2,344.0 334.5,342.8 335.0,341.8Z" fill="rgb(64,64,64)"/>
<path d="M329.8,343.6C330.1,345.0 331.2,349.4 331.9,351.8C332.5,354.1 333.4,357.0 333.8,358.0" fill="none" stroke="rgb(64,64,64)" stroke-width="1.2" stroke-linecap="round" stroke-linejoin="round"/>
<path d="M282.5,391.8C277.9,391.2 284.6,389.0 286.2,388.6C287.9,388.2 290.6,389.5 292.5,389.2C294.4,389.0 295.4,387.4 297.5,387.4C299.6,387.4 302.5,388.8 305.0,389.2C307.5,389.7 311.0,389.5 312.5,389.9C314.0,390.3 318.8,391.4 313.8,391.8C308.8,392.1 287.1,392.3 282.5,391.8Z" fill="rgb(64,64,64)"/>
<path d="M348.1,391.8C347.3,390.9 349.1,387.8 350.0,386.8C350.9,385.7 352.9,384.7 353.8,385.5C354.6,386.3 355.9,390.7 355.0,391.8C354.1,392.8 349.0,392.6 348.1,391.8Z" fill="rgb(217,217,217)"/>
<path d="M364.9,337.4C365.6,335.6 368.7,336.4 370.5,336.1C372.3,335.8 373.8,336.1 375.5,335.5C377.2,334.9 379.0,332.7 380.5,332.4C382.0,332.1 383.1,332.3 384.2,333.6C385.4,335.0 386.3,337.9 387.4,340.5C388.4,343.1 389.8,346.8 390.5,349.2C391.2,351.8 392.2,354.1 391.8,355.5C391.3,356.9 389.7,357.3 388.0,357.4C386.3,357.5 383.8,356.2 381.8,356.1C379.7,356.0 377.4,357.3 375.5,356.8C373.6,356.2 372.1,354.7 370.5,353.0C368.9,351.3 367.1,349.4 366.1,346.8C365.2,344.1 364.1,339.1 364.9,337.4Z" fill="rgb(64,64,64)"/>
<path d="M365.5,356.8C365.7,358.2 366.2,362.8 366.5,365.5C366.8,368.2 366.9,371.8 367.0,373.0" fill="none" stroke="rgb(64,64,64)" stroke-width="1.5" stroke-linecap="round" stroke-linejoin="round"/>
<path d="M589.1,341.8C589.2,339.7 590.5,337.5 591.6,336.1C592.8,334.8 594.6,333.7 596.0,333.6C597.4,333.5 598.6,333.9 599.8,335.5C600.9,337.1 602.1,340.3 602.9,343.0C603.6,345.7 604.0,349.0 604.1,351.8C604.2,354.5 604.2,358.1 603.5,359.2C602.8,360.4 601.2,359.6 599.8,358.6C598.3,357.7 596.2,355.3 594.8,353.6C593.3,352.0 591.9,350.6 591.0,348.6C590.1,346.6 589.0,343.8 589.1,341.8Z" fill="rgb(217,217,217)"/>
<path d="M642.2,334.2C642.2,336.3 642.5,342.6 642.2,346.8C642.0,350.9 641.2,357.2 641.0,359.2" fill="none" stroke="rgb(217,217,217)" stroke-width="1.8" stroke-linecap="round" stroke-linejoin="round"/>
<path d="M595.4,375.5C595.7,374.1 596.9,373.2 597.9,373.6C598.8,374.0 600.2,376.2 601.0,378.0C601.8,379.8 602.9,382.3 602.9,384.2C602.9,386.2 601.8,389.5 601.0,389.9C600.2,390.3 598.7,388.1 597.9,386.8C597.0,385.4 596.4,383.6 596.0,381.8C595.6,379.9 595.1,376.9 595.4,375.5Z" fill="rgb(64,64,64)"/>
<path d="M608.5,386.8C609.0,385.6 611.3,384.0 612.2,384.9C613.2,385.7 614.6,390.6 614.1,391.8C613.6,392.9 610.1,392.6 609.1,391.8C608.2,390.9 608.0,387.9 608.5,386.8Z" fill="rgb(64,64,64)"/>
<path d="M621.0,391.8C620.0,390.7 621.4,386.1 622.2,385.5C623.1,384.9 624.5,387.9 626.0,388.0C627.5,388.1 629.3,387.4 631.0,386.1C632.7,384.9 635.1,380.6 636.0,380.5C636.9,380.4 637.0,383.8 636.6,385.5C636.2,387.2 634.9,389.5 633.5,390.5C632.1,391.5 630.6,391.5 628.5,391.8C626.4,392.0 622.0,392.8 621.0,391.8Z" fill="rgb(64,64,64)"/>
<ellipse cx="616.0" cy="379.2" rx="1.2" ry="1.9" transform="rotate(0 616.0 379.2)" fill="rgb(64,64,64)"/>
<path d="M594.8,260.8C600.6,260.5 627.2,259.3 633.5,260.8C639.8,262.2 632.7,266.6 632.2,269.5C631.8,272.4 631.6,276.2 631.0,278.2C630.4,280.3 629.8,282.4 628.5,282.0C627.2,281.6 625.2,277.2 623.5,275.8C621.8,274.3 620.0,274.1 618.5,273.2C617.0,272.4 616.2,271.8 614.8,270.8C613.3,269.7 611.6,268.0 609.8,267.0C607.9,266.0 605.4,265.3 603.5,264.5C601.6,263.7 600.0,262.6 598.5,262.0C597.0,261.4 588.9,261.0 594.8,260.8Z" fill="rgb(140,140,140)"/>
<path d="M632.2,279.5C633.4,276.7 637.2,278.1 639.8,277.6C642.2,277.1 646.0,271.6 647.2,276.4C648.5,281.2 648.3,301.6 647.2,306.4C646.2,311.2 643.0,305.5 641.0,305.1C639.0,304.7 636.7,305.6 635.4,303.9C634.0,302.1 633.4,298.6 632.9,294.5C632.4,290.4 631.1,282.3 632.2,279.5Z" fill="rgb(140,140,140)"/>
<path d="M604.8,302.0C605.2,297.0 606.2,299.3 607.2,299.5C608.3,299.7 609.5,303.5 611.0,303.2C612.5,303.0 614.5,298.9 616.0,298.2C617.5,297.6 618.5,298.7 619.8,299.5C621.0,300.3 622.0,302.0 623.5,303.2C625.0,304.5 626.8,306.0 628.5,307.0C630.2,308.0 632.5,307.6 633.5,309.5C634.5,311.4 634.8,314.9 634.8,318.2C634.8,321.6 638.5,327.6 633.5,329.5C628.5,331.4 609.5,334.1 604.8,329.5C600.0,324.9 604.3,307.0 604.8,302.0Z" fill="rgb(140,140,140)"/>
<path d="M617.9,335.5C618.1,337.4 618.6,342.8 619.1,346.8C619.6,350.7 620.7,357.2 621.0,359.2" fill="none" stroke="rgb(115,115,115)" stroke-width="1.2" stroke-linecap="round" stroke-linejoin="round"/>
<path d="M626.0,328.0C626.3,329.7 627.4,335.1 627.9,338.0C628.4,340.9 628.9,344.2 629.1,345.5" fill="none" stroke="rgb(115,115,115)" stroke-width="1.8" stroke-linecap="round" stroke-linejoin="round"/>
<path d="M639.8,350.5C640.5,348.6 643.5,347.0 644.8,346.8C646.0,346.5 646.8,347.2 647.2,349.2C647.7,351.3 647.9,357.4 647.2,359.2C646.6,361.1 644.6,360.7 643.5,360.5C642.4,360.3 641.0,359.7 640.4,358.0C639.8,356.3 639.0,352.4 639.8,350.5Z" fill="rgb(115,115,115)"/>
<path d="M606.0,260.8C608.9,260.1 624.5,259.3 628.5,260.8C632.5,262.2 629.6,266.6 629.8,269.5C629.9,272.4 629.8,277.2 629.1,278.2C628.5,279.3 627.4,277.0 626.0,275.8C624.6,274.5 622.7,272.0 621.0,270.8C619.3,269.5 617.7,269.3 616.0,268.2C614.3,267.2 612.7,265.8 611.0,264.5C609.3,263.2 603.1,261.4 606.0,260.8Z" fill="rgb(166,166,166)"/>
<path d="M634.1,280.8C635.0,278.2 637.6,279.9 639.8,279.5C641.9,279.1 646.0,274.1 647.2,278.2C648.5,282.4 648.1,300.3 647.2,304.5C646.4,308.7 643.9,303.7 642.2,303.2C640.6,302.8 638.5,303.5 637.2,302.0C636.0,300.5 635.3,298.0 634.8,294.5C634.2,291.0 633.3,283.2 634.1,280.8Z" fill="rgb(166,166,166)"/>
<path d="M606.0,329.5C602.6,327.2 606.0,318.7 606.6,315.8C607.2,312.8 608.6,311.8 609.8,312.0C610.9,312.2 612.5,317.8 613.5,317.0C614.5,316.2 615.4,309.9 616.0,307.0C616.6,304.1 616.4,300.1 617.2,299.5C618.1,298.9 620.0,301.2 621.0,303.2C622.0,305.3 622.7,309.5 623.5,312.0C624.3,314.5 625.4,315.3 626.0,318.2C626.6,321.2 630.6,327.6 627.2,329.5C623.9,331.4 609.4,331.8 606.0,329.5Z" fill="rgb(166,166,166)"/>
<path d="M609.8,260.8C610.4,259.7 615.8,259.7 617.2,260.8C618.7,261.8 618.5,265.3 618.5,267.0C618.5,268.7 618.1,270.8 617.2,270.8C616.4,270.8 614.8,268.7 613.5,267.0C612.2,265.3 609.1,261.8 609.8,260.8Z" fill="rgb(217,217,217)"/>
<path d="M622.2,265.8C622.8,265.5 624.9,267.6 626.0,269.5C627.1,271.4 628.7,275.1 629.1,277.0C629.5,278.9 629.1,281.0 628.5,280.8C627.9,280.5 626.3,277.4 625.4,275.8C624.4,274.1 623.4,272.4 622.9,270.8C622.4,269.1 621.7,266.0 622.2,265.8Z" fill="rgb(217,217,217)"/>
<path d="M636.0,284.5C636.8,282.4 640.4,283.6 642.2,283.2C644.1,282.9 646.4,279.9 647.2,282.6C648.1,285.3 648.1,296.9 647.2,299.5C646.4,302.1 643.9,298.9 642.2,298.2C640.6,297.6 638.3,298.0 637.2,295.8C636.2,293.5 635.2,286.6 636.0,284.5Z" fill="rgb(217,217,217)"/>
<path d="M607.2,329.5C606.4,327.6 607.9,320.3 608.5,318.2C609.1,316.2 610.3,316.0 611.0,317.0C611.7,318.0 612.5,322.4 612.9,324.5C613.3,326.6 614.4,328.7 613.5,329.5C612.6,330.3 608.1,331.4 607.2,329.5Z" fill="rgb(191,191,191)"/>
<path d="M616.0,312.0C616.1,309.7 617.0,302.8 617.9,302.0C618.7,301.2 620.3,304.9 621.0,307.0C621.7,309.1 622.5,312.6 622.2,314.5C622.0,316.4 620.6,318.0 619.8,318.2C618.9,318.5 617.9,316.8 617.2,315.8C616.6,314.7 615.9,314.3 616.0,312.0Z" fill="rgb(191,191,191)"/>
<path d="M629.8,260.8C632.5,258.7 644.3,257.6 647.2,260.8C650.2,263.9 648.3,276.6 647.2,279.5C646.2,282.4 643.1,278.7 641.0,278.2C638.9,277.8 636.4,277.8 634.8,277.0C633.1,276.2 631.8,276.0 631.0,273.2C630.2,270.5 627.0,262.8 629.8,260.8Z" fill="rgb(89,89,89)"/>
<path d="M635.4,310.8C636.2,308.1 637.8,306.3 639.8,305.1C641.7,304.0 646.0,299.8 647.2,303.9C648.5,307.9 648.9,325.2 647.2,329.5C645.6,333.8 639.3,331.0 637.2,329.5C635.2,328.0 635.1,323.9 634.8,320.8C634.4,317.6 634.5,313.4 635.4,310.8Z" fill="rgb(89,89,89)"/>
<path d="M608.5,329.5C608.1,328.2 609.2,323.0 609.8,322.0C610.3,321.0 611.2,322.0 611.6,323.2C612.0,324.5 612.8,328.5 612.2,329.5C611.7,330.5 608.9,330.8 608.5,329.5Z" fill="rgb(217,217,217)"/>
<path d="M634.8,328.0C635.2,329.2 636.6,333.4 637.2,335.5C637.9,337.6 638.3,339.7 638.5,340.5" fill="none" stroke="rgb(89,89,89)" stroke-width="3.2" stroke-linecap="round" stroke-linejoin="round"/>
<path d="M633.5,265.8C634.0,264.3 635.8,263.0 637.2,263.2C638.7,263.5 640.6,266.6 642.2,267.0C643.9,267.4 646.4,264.1 647.2,265.8C648.1,267.4 648.1,275.3 647.2,277.0C646.4,278.7 643.9,276.2 642.2,275.8C640.6,275.3 638.6,275.1 637.2,274.5C635.9,273.9 634.8,273.5 634.1,272.0C633.5,270.5 633.0,267.2 633.5,265.8Z" fill="rgb(64,64,64)"/>
<path d="M637.9,312.0C638.5,309.7 639.4,308.0 641.0,307.0C642.6,306.0 646.2,302.0 647.2,305.8C648.3,309.5 648.5,325.5 647.2,329.5C646.0,333.5 641.4,331.0 639.8,329.5C638.1,328.0 637.6,323.7 637.2,320.8C636.9,317.8 637.2,314.3 637.9,312.0Z" fill="rgb(64,64,64)"/>
<path d="M629.1,309.5C629.4,311.2 630.5,316.2 631.0,319.5C631.5,322.8 632.0,327.8 632.2,329.5" fill="none" stroke="rgb(115,115,115)" stroke-width="1.5" stroke-linecap="round" stroke-linejoin="round"/>
<ellipse cx="601.6" cy="153.8" rx="1.0" ry="3.8" transform="rotate(0 601.6 153.8)" fill="rgb(38,38,38)"/>
<ellipse cx="354.1" cy="203.8" rx="0.9" ry="2.2" transform="rotate(0 354.1 203.8)" fill="rgb(38,38,38)"/>
<ellipse cx="361.9" cy="208.1" rx="1.5" ry="4.4" transform="rotate(15.0 361.9 208.1)" fill="rgb(38,38,38)"/>
<ellipse cx="348.1" cy="194.4" rx="0.8" ry="2.5" transform="rotate(0 348.1 194.4)" fill="rgb(38,38,38)"/>
<ellipse cx="361.5" cy="207.9" rx="1.8" ry="5.6" transform="rotate(15.0 361.5 207.9)" fill="rgb(38,38,38)"/>
<path d="M369.9,213.5C370.3,211.9 372.0,210.0 373.0,209.1C374.0,208.3 375.5,207.6 376.1,208.5C376.8,209.4 377.2,212.9 376.8,214.8C376.3,216.6 374.7,219.1 373.6,219.8C372.6,220.4 371.1,219.5 370.5,218.5C369.9,217.5 369.5,215.1 369.9,213.5Z" fill="rgb(38,38,38)"/>
<path d="M468.2,234.8C468.2,233.8 469.9,232.7 471.0,232.2C472.1,231.8 473.5,231.6 474.8,232.2C476.0,232.9 478.3,235.2 478.5,236.0C478.7,236.8 477.2,236.9 476.0,237.2C474.8,237.6 472.3,238.3 471.0,237.9C469.7,237.5 468.2,235.7 468.2,234.8Z" fill="rgb(38,38,38)"/>
<path d="M591.0,225.4C591.3,224.6 592.9,223.8 594.1,223.8C595.4,223.8 596.8,224.2 598.5,225.4C600.2,226.6 602.7,229.2 604.1,231.0C605.6,232.8 606.8,234.6 607.2,236.0C607.7,237.4 607.5,238.9 606.6,239.1C605.8,239.3 604.0,238.4 602.2,237.2C600.5,236.1 597.7,233.7 596.0,232.2C594.3,230.8 593.1,229.6 592.2,228.5C591.4,227.4 590.7,226.2 591.0,225.4Z" fill="rgb(38,38,38)"/>
<path d="M612.0,230.4C612.2,229.5 613.4,229.0 614.1,229.8C614.9,230.5 616.1,233.0 616.6,234.8C617.2,236.5 617.8,239.6 617.5,240.4C617.2,241.1 615.5,240.1 614.8,239.1C614.0,238.2 613.3,236.2 612.9,234.8C612.4,233.3 611.8,231.2 612.0,230.4Z" fill="rgb(38,38,38)"/>
<path d="M286.2,284.5C286.8,283.9 289.6,286.3 291.2,286.4C292.9,286.5 295.3,284.4 296.2,285.1C297.2,285.9 297.5,289.4 296.9,290.8C296.2,292.1 294.0,293.4 292.5,293.2C291.0,293.1 289.2,291.6 288.1,290.1C287.1,288.7 285.7,285.1 286.2,284.5Z" fill="rgb(38,38,38)"/>
<path d="M255.0,317.0C255.8,315.5 259.1,318.7 260.0,320.8C260.9,322.8 261.5,328.0 260.6,329.5C259.8,331.0 255.9,331.6 255.0,329.5C254.1,327.4 254.2,318.5 255.0,317.0Z" fill="rgb(38,38,38)"/>
<path d="M530.4,278.2C530.8,276.9 531.7,275.1 533.5,273.9C535.3,272.6 538.9,271.5 541.0,270.8C543.1,270.0 543.9,269.5 546.0,269.5C548.1,269.5 551.2,270.4 553.5,270.8C555.8,271.1 557.9,271.6 559.8,271.4C561.6,271.2 563.9,268.7 564.8,269.5C565.6,270.3 565.8,274.7 564.8,276.4C563.7,278.0 560.8,278.8 558.5,279.5C556.2,280.2 553.5,280.2 551.0,280.8C548.5,281.3 545.6,282.0 543.5,282.6C541.4,283.2 540.2,284.2 538.5,284.5C536.8,284.8 534.8,284.9 533.5,284.5C532.2,284.1 531.5,283.0 531.0,282.0C530.5,281.0 530.0,279.6 530.4,278.2Z" fill="rgb(38,38,38)"/>
<path d="M536.0,272.0C537.2,269.4 541.2,270.5 543.5,270.1C545.8,269.7 547.7,269.3 549.8,269.5C551.8,269.7 553.9,271.3 556.0,271.4C558.1,271.5 560.2,271.0 562.2,270.1C564.3,269.3 566.2,267.6 568.5,266.4C570.8,265.1 573.1,263.4 576.0,262.6C578.9,261.9 583.1,261.7 586.0,262.0C588.9,262.3 591.4,263.2 593.5,264.5C595.6,265.8 597.0,267.8 598.5,269.5C600.0,271.2 601.4,272.6 602.2,274.5C603.1,276.4 604.1,279.5 603.5,280.8C602.9,282.0 600.6,282.2 598.5,282.0C596.4,281.8 593.3,280.4 591.0,279.5C588.7,278.6 587.0,277.4 584.8,276.4C582.5,275.3 579.5,273.9 577.2,273.2C575.0,272.6 573.1,272.5 571.0,272.6C568.9,272.7 566.6,272.9 564.8,273.9C562.9,274.8 561.6,276.8 559.8,278.2C557.9,279.7 555.8,281.6 553.5,282.6C551.2,283.7 548.3,284.1 546.0,284.5C543.7,284.9 541.4,284.9 539.8,285.1C538.1,285.3 536.6,287.9 536.0,285.8C535.4,283.6 534.8,274.6 536.0,272.0Z" fill="rgb(38,38,38)"/>
<ellipse cx="598.5" cy="314.5" rx="1.5" ry="4.4" transform="rotate(0 598.5 314.5)" fill="rgb(38,38,38)"/>
<path d="M604.1,269.5C604.4,267.9 604.9,266.4 606.0,266.4C607.1,266.4 609.3,267.9 611.0,269.5C612.7,271.1 614.3,274.3 616.0,275.8C617.7,277.2 619.3,277.0 621.0,278.2C622.7,279.5 624.3,281.4 626.0,283.2C627.7,285.1 629.9,287.0 631.0,289.5C632.1,292.0 632.9,295.8 632.9,298.2C632.9,300.8 632.1,304.1 631.0,304.5C629.9,304.9 627.5,301.8 626.0,300.8C624.5,299.7 623.5,299.3 622.2,298.2C621.0,297.2 619.8,294.3 618.5,294.5C617.2,294.7 616.0,298.9 614.8,299.5C613.5,300.1 612.2,299.5 611.0,298.2C609.8,297.0 608.2,294.5 607.2,292.0C606.3,289.5 605.9,286.0 605.4,283.2C604.9,280.5 604.3,278.0 604.1,275.8C603.9,273.5 603.8,271.1 604.1,269.5Z" fill="rgb(38,38,38)"/>
<path d="M339.4,345.5C339.8,344.2 341.6,342.8 342.5,343.0C343.4,343.2 344.2,345.1 345.0,346.8C345.8,348.4 346.2,352.2 347.5,353.0C348.8,353.8 350.8,352.4 352.5,351.8C354.2,351.1 356.0,350.1 357.5,349.2C359.0,348.4 360.4,346.1 361.2,346.8C362.1,347.4 362.5,350.5 362.5,353.0C362.5,355.5 362.1,360.1 361.2,361.8C360.4,363.4 358.8,362.2 357.5,363.0C356.2,363.8 355.2,365.3 353.8,366.8C352.3,368.2 350.0,371.5 348.8,371.8C347.5,372.0 346.9,369.9 346.2,368.0C345.6,366.1 345.6,362.8 345.0,360.5C344.4,358.2 343.3,355.9 342.5,354.2C341.7,352.6 340.5,352.0 340.0,350.5C339.5,349.0 339.0,346.8 339.4,345.5Z" fill="rgb(38,38,38)"/>
<path d="M364.4,336.8C365.2,335.0 368.0,330.3 368.8,336.1C369.5,342.0 369.2,366.2 368.8,371.8C368.3,377.3 366.9,371.3 366.2,369.2C365.6,367.2 365.4,363.0 365.0,359.2C364.6,355.5 364.1,350.5 364.0,346.8C363.9,343.0 363.6,338.5 364.4,336.8Z" fill="rgb(38,38,38)"/>
<path d="M364.9,338.6C365.4,337.1 368.1,337.1 369.2,337.4C370.4,337.7 370.7,339.6 371.8,340.5C372.8,341.4 374.4,342.7 375.5,343.0C376.6,343.3 378.0,341.5 378.6,342.4C379.2,343.2 379.6,346.3 379.2,348.0C378.9,349.7 377.8,351.4 376.8,352.4C375.7,353.3 374.2,353.9 373.0,353.6C371.8,353.3 370.4,351.6 369.2,350.5C368.1,349.4 366.9,348.7 366.1,346.8C365.4,344.8 364.4,340.2 364.9,338.6Z" fill="rgb(38,38,38)"/>
<path d="M609.8,328.0C610.2,330.1 611.4,336.3 612.2,340.5C613.1,344.7 614.1,349.0 614.8,353.0C615.4,357.0 615.8,362.4 616.0,364.2" fill="none" stroke="rgb(242,242,242)" stroke-width="2.8" stroke-linecap="round" stroke-linejoin="round"/>
<path d="M622.2,348.0C622.5,349.5 623.0,353.8 623.5,356.8C624.0,359.7 625.1,364.0 625.4,365.5" fill="none" stroke="rgb(242,242,242)" stroke-width="3.2" stroke-linecap="round" stroke-linejoin="round"/>
<path d="M631.0,335.5C631.2,337.4 631.6,342.6 632.2,346.8C632.9,350.9 634.1,357.2 634.8,360.5C635.4,363.8 635.8,365.7 636.0,366.8" fill="none" stroke="rgb(242,242,242)" stroke-width="2.2" stroke-linecap="round" stroke-linejoin="round"/>
<path d="M634.8,328.0C635.2,329.2 636.6,333.4 637.2,335.5C637.9,337.6 638.3,339.7 638.5,340.5" fill="none" stroke="rgb(64,64,64)" stroke-width="1.8" stroke-linecap="round" stroke-linejoin="round"/>
<path d="M623.5,391.8C622.9,391.3 624.5,389.9 626.0,389.2C627.5,388.6 631.0,387.8 632.2,388.0C633.5,388.2 633.9,389.9 633.5,390.5C633.1,391.1 631.4,391.5 629.8,391.8C628.1,392.0 624.1,392.2 623.5,391.8Z" fill="rgb(38,38,38)"/>
<path d="M634.4,266.8C634.7,265.1 637.0,264.3 638.1,264.6C639.3,265.0 640.1,268.3 641.4,268.9C642.6,269.4 644.8,267.2 645.6,267.9C646.5,268.6 647.3,271.7 646.6,273.1C645.9,274.5 643.1,276.2 641.4,276.4C639.6,276.6 637.2,275.9 636.0,274.2C634.8,272.6 634.0,268.4 634.4,266.8Z" fill="rgb(38,38,38)"/>
<path d="M639.2,308.5C640.9,305.4 646.3,303.6 647.8,306.4C649.2,309.1 649.4,321.9 647.8,325.0C646.1,328.1 639.5,327.8 638.1,325.0C636.7,322.2 637.6,311.6 639.2,308.5Z" fill="rgb(38,38,38)"/>
<path d="M623.6,258.8 L630.1,270.0" fill="none" stroke="rgb(64,64,64)" stroke-width="1.5" stroke-linecap="round" stroke-linejoin="round"/>
<path d="M363.6,328.0C363.7,332.2 363.8,342.5 364.0,353.0C364.2,363.5 364.7,384.7 364.9,391.0" fill="none" stroke="rgb(217,217,217)" stroke-width="1.1" stroke-linecap="round" stroke-linejoin="round"/>
<path d="M608.2,277.6C608.6,276.2 610.3,276.1 611.0,277.0C611.7,277.9 612.2,281.0 612.5,283.2C612.8,285.5 612.9,289.3 612.5,290.8C612.1,292.2 611.0,292.8 610.4,292.0C609.8,291.2 609.1,288.1 608.8,285.8C608.4,283.4 607.9,279.1 608.2,277.6Z" fill="rgb(13,13,13)"/>
<ellipse cx="621.9" cy="285.8" rx="0.8" ry="3.8" transform="rotate(0 621.9 285.8)" fill="rgb(13,13,13)"/>
<path d="M352.5,359.2C352.7,357.8 354.0,355.9 355.0,354.2C356.0,352.6 357.6,350.7 358.8,349.2C359.9,347.8 361.2,345.3 361.9,345.5C362.5,345.7 362.8,348.8 362.5,350.5C362.2,352.2 361.0,353.8 360.0,355.5C359.0,357.2 357.3,359.2 356.2,360.5C355.2,361.8 354.4,363.2 353.8,363.0C353.1,362.8 352.3,360.7 352.5,359.2Z" fill="rgb(13,13,13)"/>
</g>
</g>
<g stroke="#000" fill="none">
<line x1="271.10" y1="391" x2="271.10" y2="387" stroke-width="1.2"/>
<line x1="271.10" y1="132" x2="271.10" y2="136" stroke-width="1.2"/>
<line x1="286.45" y1="391" x2="286.45" y2="387" stroke-width="1.2"/>
<line x1="286.45" y1="132" x2="286.45" y2="136" stroke-width="1.2"/>
<line x1="301.80" y1="391" x2="301.80" y2="387" stroke-width="1.2"/>
<line x1="301.80" y1="132" x2="301.80" y2="136" stroke-width="1.2"/>
<line x1="317.15" y1="391" x2="317.15" y2="387" stroke-width="1.2"/>
<line x1="317.15" y1="132" x2="317.15" y2="136" stroke-width="1.2"/>
<line x1="332.50" y1="391" x2="332.50" y2="382" stroke-width="1.6"/>
<line x1="332.50" y1="132" x2="332.50" y2="141" stroke-width="1.6"/>
<line x1="347.85" y1="391" x2="347.85" y2="387" stroke-width="1.2"/>
<line x1="347.85" y1="132" x2="347.85" y2="136" stroke-width="1.2"/>
<line x1="363.20" y1="391" x2="363.20" y2="387" stroke-width="1.2"/>
<line x1="363.20" y1="132" x2="363.20" y2="136" stroke-width="1.2"/>
<line x1="378.55" y1="391" x2="378.55" y2="387" stroke-width="1.2"/>
<line x1="378.55" y1="132" x2="378.55" y2="136" stroke-width="1.2"/>
<line x1="393.90" y1="391" x2="393.90" y2="387" stroke-width="1.2"/>
<line x1="393.90" y1="132" x2="393.90" y2="136" stroke-width="1.2"/>
<line x1="409.25" y1="391" x2="409.25" y2="382" stroke-width="1.6"/>
<line x1="409.25" y1="132" x2="409.25" y2="141" stroke-width="1.6"/>
<line x1="424.60" y1="391" x2="424.60" y2="387" stroke-width="1.2"/>
<line x1="424.60" y1="132" x2="424.60" y2="136" stroke-width="1.2"/>
<line x1="439.95" y1="391" x2="439.95" y2="387" stroke-width="1.2"/>
<line x1="439.95" y1="132" x2="439.95" y2="136" stroke-width="1.2"/>
<line x1="455.30" y1="391" x2="455.30" y2="387" stroke-width="1.2"/>
<line x1="455.30" y1="132" x2="455.30" y2="136" stroke-width="1.2"/>
<line x1="470.65" y1="391" x2="470.65" y2="387" stroke-width="1.2"/>
<line x1="470.65" y1="132" x2="470.65" y2="136" stroke-width="1.2"/>
<line x1="486.00" y1="391" x2="486.00" y2="382" stroke-width="1.6"/>
<line x1="486.00" y1="132" x2="486.00" y2="141" stroke-width="1.6"/>
<line x1="501.35" y1="391" x2="501.35" y2="387" stroke-width="1.2"/>
<line x1="501.35" y1="132" x2="501.35" y2="136" stroke-width="1.2"/>
<line x1="516.70" y1="391" x2="516.70" y2="387" stroke-width="1.2"/>
<line x1="516.70" y1="132" x2="516.70" y2="136" stroke-width="1.2"/>
<line x1="532.05" y1="391" x2="532.05" y2="387" stroke-width="1.2"/>
<line x1="532.05" y1="132" x2="532.05" y2="136" stroke-width="1.2"/>
<line x1="547.40" y1="391" x2="547.40" y2="387" stroke-width="1.2"/>
<line x1="547.40" y1="132" x2="547.40" y2="136" stroke-width="1.2"/>
<line x1="562.75" y1="391" x2="562.75" y2="382" stroke-width="1.6"/>
<line x1="562.75" y1="132" x2="562.75" y2="141" stroke-width="1.6"/>
<line x1="578.10" y1="391" x2="578.10" y2="387" stroke-width="1.2"/>
<line x1="578.10" y1="132" x2="578.10" y2="136" stroke-width="1.2"/>
<line x1="593.45" y1="391" x2="593.45" y2="387" stroke-width="1.2"/>
<line x1="593.45" y1="132" x2="593.45" y2="136" stroke-width="1.2"/>
<line x1="608.80" y1="391" x2="608.80" y2="387" stroke-width="1.2"/>
<line x1="608.80" y1="132" x2="608.80" y2="136" stroke-width="1.2"/>
<line x1="624.15" y1="391" x2="624.15" y2="387" stroke-width="1.2"/>
<line x1="624.15" y1="132" x2="624.15" y2="136" stroke-width="1.2"/>
<line x1="639.50" y1="391" x2="639.50" y2="382" stroke-width="1.6"/>
<line x1="639.50" y1="132" x2="639.50" y2="141" stroke-width="1.6"/>
<line x1="257" y1="376.20" x2="261" y2="376.20" stroke-width="1.2"/>
<line x1="647" y1="376.20" x2="643" y2="376.20" stroke-width="1.2"/>
<line x1="257" y1="358.60" x2="261" y2="358.60" stroke-width="1.2"/>
<line x1="647" y1="358.60" x2="643" y2="358.60" stroke-width="1.2"/>
<line x1="257" y1="341.00" x2="261" y2="341.00" stroke-width="1.2"/>
<line x1="647" y1="341.00" x2="643" y2="341.00" stroke-width="1.2"/>
<line x1="257" y1="323.40" x2="261" y2="323.40" stroke-width="1.2"/>
<line x1="647" y1="323.40" x2="643" y2="323.40" stroke-width="1.2"/>
<line x1="257" y1="305.80" x2="266" y2="305.80" stroke-width="1.6"/>
<line x1="647" y1="305.80" x2="638" y2="305.80" stroke-width="1.6"/>
<line x1="257" y1="288.20" x2="261" y2="288.20" stroke-width="1.2"/>
<line x1="647" y1="288.20" x2="643" y2="288.20" stroke-width="1.2"/>
<line x1="257" y1="270.60" x2="261" y2="270.60" stroke-width="1.2"/>
<line x1="647" y1="270.60" x2="643" y2="270.60" stroke-width="1.2"/>
<line x1="257" y1="253.00" x2="261" y2="253.00" stroke-width="1.2"/>
<line x1="647" y1="253.00" x2="643" y2="253.00" stroke-width="1.2"/>
<line x1="257" y1="235.40" x2="261" y2="235.40" stroke-width="1.2"/>
<line x1="647" y1="235.40" x2="643" y2="235.40" stroke-width="1.2"/>
<line x1="257" y1="217.80" x2="266" y2="217.80" stroke-width="1.6"/>
<line x1="647" y1="217.80" x2="638" y2="217.80" stroke-width="1.6"/>
<line x1="257" y1="200.20" x2="261" y2="200.20" stroke-width="1.2"/>
<line x1="647" y1="200.20" x2="643" y2="200.20" stroke-width="1.2"/>
<line x1="257" y1="182.60" x2="261" y2="182.60" stroke-width="1.2"/>
<line x1="647" y1="182.60" x2="643" y2="182.60" stroke-width="1.2"/>
<line x1="257" y1="165.00" x2="261" y2="165.00" stroke-width="1.2"/>
<line x1="647" y1="165.00" x2="643" y2="165.00" stroke-width="1.2"/>
<line x1="257" y1="147.40" x2="261" y2="147.40" stroke-width="1.2"/>
<line x1="647" y1="147.40" x2="643" y2="147.40" stroke-width="1.2"/>
<rect x="256" y="131" width="392" height="261" stroke-width="2"/>
</g>
<rect x="664" y="196" width="13" height="19" fill="rgb(255, 185, 185)"/>
<rect x="664" y="215" width="13" height="19.5" fill="rgb(255, 120, 120)"/>
<rect x="664" y="234.5" width="13" height="17.5" fill="rgb(255, 20, 20)"/>
<rect x="664" y="252" width="13" height="19" fill="rgb(255, 105, 0)"/>
<rect x="664" y="271" width="13" height="6" fill="rgb(255, 165, 0)"/>
<rect x="664" y="277" width="13" height="6" fill="rgb(255, 210, 0)"/>
<rect x="664" y="283" width="13" height="6" fill="rgb(245, 255, 0)"/>
<rect x="664" y="289" width="13" height="7" fill="rgb(0, 255, 80)"/>
<rect x="664" y="296" width="13" height="6" fill="rgb(0, 240, 255)"/>
<rect x="664" y="302" width="13" height="6" fill="rgb(0, 40, 255)"/>
<rect x="664" y="308" width="13" height="18" fill="rgb(0, 0, 165)"/>
<rect x="664" y="326" width="13" height="19" fill="rgb(115, 0, 175)"/>
<rect x="664" y="345" width="13" height="18" fill="rgb(185, 0, 170)"/>
<rect x="664" y="363" width="13" height="29" fill="rgb(235, 0, 165)"/>
<line x1="664" x2="677" y1="215" y2="215" stroke="#000" stroke-width="1.6"/>
<line x1="664" x2="677" y1="234.5" y2="234.5" stroke="#000" stroke-width="1.6"/>
<line x1="664" x2="677" y1="252" y2="252" stroke="#000" stroke-width="1.6"/>
<line x1="664" x2="677" y1="271" y2="271" stroke="#000" stroke-width="1.6"/>
<line x1="664" x2="677" y1="277" y2="277" stroke="#000" stroke-width="1.6"/>
<line x1="664" x2="677" y1="283" y2="283" stroke="#000" stroke-width="1.6"/>
<line x1="664" x2="677" y1="289" y2="289" stroke="#000" stroke-width="1.6"/>
<line x1="664" x2="677" y1="296" y2="296" stroke="#000" stroke-width="1.6"/>
<line x1="664" x2="677" y1="302" y2="302" stroke="#000" stroke-width="1.6"/>
<line x1="664" x2="677" y1="308" y2="308" stroke="#000" stroke-width="1.6"/>
<line x1="664" x2="677" y1="326" y2="326" stroke="#000" stroke-width="1.6"/>
<line x1="664" x2="677" y1="345" y2="345" stroke="#000" stroke-width="1.6"/>
<line x1="664" x2="677" y1="363" y2="363" stroke="#000" stroke-width="1.6"/>
<polygon points="664,196 670.5,168 677,196" fill="rgb(255,222,222)" stroke="#000" stroke-width="1.6" stroke-linejoin="miter"/>
<rect x="664" y="196" width="13" height="196" fill="none" stroke="#000" stroke-width="2"/>
<text class="thin" x="351.5" y="84.4" font-size="27.5" textLength="201.7" lengthAdjust="spacingAndGlyphs" style="word-spacing:5px">zonal velocity</text>
<text class="med" x="164.6" y="108.6" font-size="16.8" textLength="87" lengthAdjust="spacingAndGlyphs" style="word-spacing:3px">(x1E4 m)</text>
<text class="thin2" x="655.8" y="142.7" font-size="16" textLength="100.7" lengthAdjust="spacingAndGlyphs" style="word-spacing:1px">t=173400 s</text>
<text class="med" x="567.5" y="437.2" font-size="16.8" textLength="88" lengthAdjust="spacingAndGlyphs" style="word-spacing:3px">(x1E5 m)</text>
<text class="thin" font-size="23.5" y="468.8"><tspan x="373.3" textLength="12.6" lengthAdjust="spacingAndGlyphs">X</tspan><tspan x="393" dy="-0.8">-</tspan><tspan x="408.3" dy="0.8" textLength="122.6" lengthAdjust="spacingAndGlyphs">coordinate</tspan></text>
<line x1="388.7" x2="405" y1="461.4" y2="461.4" stroke="#000" stroke-width="1.4"/>
<g transform="translate(218,338.5) rotate(-90)"><text class="thin" font-size="23.5" y="0"><tspan x="0" textLength="12.4" lengthAdjust="spacingAndGlyphs">Z</tspan><tspan x="19.4" dy="-0.8">-</tspan><tspan x="34.6" dy="0.8" textLength="121.4" lengthAdjust="spacingAndGlyphs">coordinate</tspan></text><line x1="15.2" x2="31.4" y1="-7.4" y2="-7.4" stroke="#000" stroke-width="1.4"/></g>
<g class="lab" font-size="17.6" text-anchor="middle">
<text x="332.5" y="414.2">1</text>
<text x="409.25" y="414.2">2</text>
<text x="486" y="414.2">3</text>
<text x="562.75" y="414.2">4</text>
<text x="639.5" y="414.2">5</text>
</g>
<g class="lab" font-size="17.6" text-anchor="end">
<text x="245.2" y="311.8">1</text>
<text x="246" y="223.9">2</text>
</g>
<g class="med" font-size="16.8">
<text x="687" y="201.7" textLength="31.5" lengthAdjust="spacingAndGlyphs">15.1</text>
<text x="687" y="257.6">6</text>
<text x="686.5" y="288.6">1</text>
<text x="687" y="307" textLength="22.6" lengthAdjust="spacingAndGlyphs">−2</text>
<text x="687" y="351" textLength="22.2" lengthAdjust="spacingAndGlyphs">−9</text>
</g>
</svg>
</body>
</html>
